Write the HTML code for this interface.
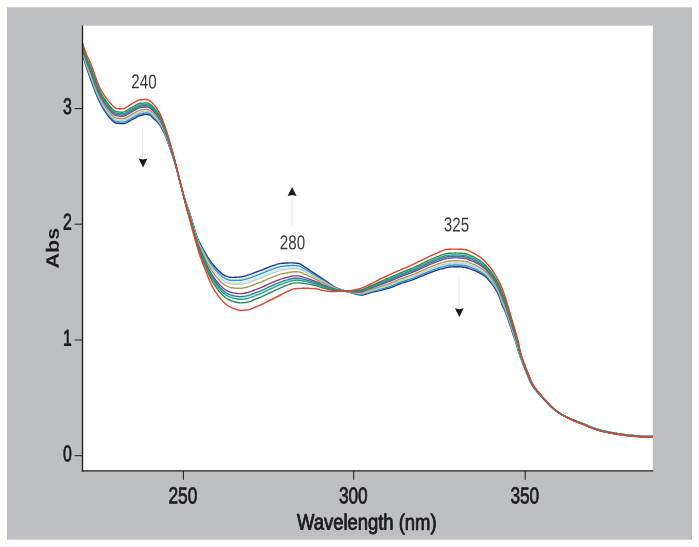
<!DOCTYPE html>
<html><head><meta charset="utf-8"><title>UV-Vis absorption spectra</title>
<style>
html,body{margin:0;padding:0;background:#fff;}
body{width:699px;height:547px;overflow:hidden;position:relative;font-family:"Liberation Sans",sans-serif;}
svg{position:absolute;left:0;top:0;display:block;}
</style></head><body>
<svg width="699" height="547" viewBox="0 0 699 547">
<defs><clipPath id="c"><rect x="82" y="25" width="570.8" height="446"/></clipPath></defs>
<rect x="7" y="7.3" width="685" height="532.4" fill="#bebfc3"/>
<rect x="82" y="25.7" width="570.8" height="445.3" fill="#fff"/>
<g fill="none" stroke-width="1.4" stroke-linejoin="round" clip-path="url(#c)">
<path d="M82.5 53.8 L83.5 57.1 L84.5 60.3 L85.5 63.4 L86.5 66.5 L87.5 69.5 L88.5 72.4 L89.5 75.2 L90.5 77.9 L91.5 80.7 L92.5 83.5 L93.5 86.2 L94.5 88.9 L95.5 91.5 L96.5 94.0 L97.5 96.4 L98.5 98.6 L99.5 100.8 L100.5 102.7 L101.5 104.5 L102.5 106.3 L103.5 108.1 L104.5 109.7 L105.5 111.3 L106.5 112.8 L107.5 114.2 L108.5 115.4 L109.5 116.6 L110.5 117.7 L111.5 118.8 L112.5 119.8 L113.5 120.8 L114.5 121.6 L115.5 122.1 L116.5 122.3 L117.5 122.4 L118.5 122.5 L119.5 122.6 L120.5 122.7 L121.5 122.7 L122.5 122.7 L123.5 122.7 L124.5 122.6 L125.5 122.3 L126.5 121.8 L127.5 121.3 L128.5 120.7 L129.5 120.1 L130.5 119.5 L131.5 119.0 L132.5 118.5 L133.5 117.9 L134.5 117.4 L135.5 116.8 L136.5 116.2 L137.5 115.7 L138.5 115.2 L139.5 114.8 L140.5 114.5 L141.5 114.3 L142.5 114.0 L143.5 113.8 L144.5 113.7 L145.5 113.5 L146.5 113.5 L147.5 113.6 L148.5 113.8 L149.5 114.1 L150.5 114.5 L151.5 115.4 L152.5 116.6 L153.5 117.6 L154.5 118.5 L155.5 119.4 L156.5 120.3 L157.5 121.4 L158.5 122.6 L159.5 123.9 L160.5 125.5 L161.5 127.2 L162.5 129.1 L163.5 131.0 L164.5 133.1 L165.5 135.5 L166.5 138.1 L167.5 140.9 L168.5 143.7 L169.5 146.6 L170.5 149.5 L171.5 152.4 L172.5 155.3 L173.5 158.4 L174.5 161.5 L175.5 164.8 L176.5 168.2 L177.5 172.0 L178.5 176.1 L179.5 180.1 L180.5 183.9 L181.5 187.6 L182.5 191.2 L183.5 194.7 L184.5 198.1 L185.5 201.3 L186.5 204.3 L187.5 207.3 L188.5 210.2 L189.5 213.2 L190.5 216.2 L191.5 219.3 L192.5 222.6 L193.5 226.0 L194.5 229.5 L195.5 232.8 L196.5 235.9 L197.5 238.6 L198.5 241.0 L199.5 243.1 L200.5 245.1 L201.5 247.1 L202.5 248.9 L203.5 250.8 L204.5 252.6 L205.5 254.4 L206.5 256.2 L207.5 257.9 L208.5 259.6 L209.5 261.2 L210.5 262.6 L211.5 264.0 L212.5 265.3 L213.5 266.6 L214.5 267.8 L215.5 268.9 L216.5 270.0 L217.5 271.0 L218.5 272.0 L219.5 273.1 L220.5 274.1 L221.5 275.0 L222.5 275.8 L223.5 276.6 L224.5 277.1 L225.5 277.5 L226.5 278.0 L227.5 278.3 L228.5 278.7 L229.5 278.9 L230.5 279.1 L231.5 279.2 L232.5 279.2 L233.5 279.2 L234.5 279.2 L235.5 279.2 L236.5 279.2 L237.5 279.1 L238.5 279.0 L239.5 279.0 L240.5 278.9 L241.5 278.8 L242.5 278.6 L243.5 278.4 L244.5 278.2 L245.5 277.9 L246.5 277.6 L247.5 277.3 L248.5 277.0 L249.5 276.7 L250.5 276.3 L251.5 276.0 L252.5 275.6 L253.5 275.2 L254.5 274.8 L255.5 274.4 L256.5 274.1 L257.5 273.7 L258.5 273.3 L259.5 273.0 L260.5 272.6 L261.5 272.3 L262.5 271.9 L263.5 271.4 L264.5 271.0 L265.5 270.6 L266.5 270.1 L267.5 269.7 L268.5 269.3 L269.5 268.9 L270.5 268.5 L271.5 268.2 L272.5 267.8 L273.5 267.5 L274.5 267.1 L275.5 266.7 L276.5 266.4 L277.5 266.1 L278.5 265.8 L279.5 265.6 L280.5 265.4 L281.5 265.2 L282.5 265.1 L283.5 265.0 L284.5 264.9 L285.5 264.8 L286.5 264.8 L287.5 264.7 L288.5 264.6 L289.5 264.6 L290.5 264.5 L291.5 264.5 L292.5 264.5 L293.5 264.5 L294.5 264.6 L295.5 264.6 L296.5 264.7 L297.5 264.8 L298.5 264.9 L299.5 265.2 L300.5 265.6 L301.5 266.1 L302.5 266.7 L303.5 267.4 L304.5 268.0 L305.5 268.6 L306.5 269.2 L307.5 269.8 L308.5 270.5 L309.5 271.1 L310.5 271.7 L311.5 272.4 L312.5 273.0 L313.5 273.7 L314.5 274.3 L315.5 275.0 L316.5 275.6 L317.5 276.2 L318.5 276.9 L319.5 277.5 L320.5 278.2 L321.5 278.8 L322.5 279.4 L323.5 280.0 L324.5 280.7 L325.5 281.3 L326.5 282.0 L327.5 282.6 L328.5 283.3 L329.5 284.0 L330.5 284.6 L331.5 285.3 L332.5 286.0 L333.5 286.6 L334.5 287.2 L335.5 287.7 L336.5 288.1 L337.5 288.5 L338.5 288.9 L339.5 289.2 L340.5 289.6 L341.5 289.9 L342.5 290.2 L343.5 290.5 L344.5 290.9 L345.5 291.2 L346.5 291.5 L347.5 291.7 L348.5 291.9 L349.5 292.1 L350.5 292.4 L351.5 292.7 L352.5 293.0 L353.5 293.2 L354.5 293.5 L355.5 293.8 L356.5 294.0 L357.5 294.2 L358.5 294.4 L359.5 294.6 L360.5 294.7 L361.5 294.6 L362.5 294.5 L363.5 294.3 L364.5 294.1 L365.5 293.8 L366.5 293.5 L367.5 293.2 L368.5 292.8 L369.5 292.5 L370.5 292.2 L371.5 291.9 L372.5 291.6 L373.5 291.3 L374.5 291.1 L375.5 290.9 L376.5 290.7 L377.5 290.4 L378.5 290.2 L379.5 290.0 L380.5 289.7 L381.5 289.4 L382.5 289.2 L383.5 288.9 L384.5 288.6 L385.5 288.3 L386.5 288.1 L387.5 287.8 L388.5 287.5 L389.5 287.2 L390.5 286.9 L391.5 286.5 L392.5 286.1 L393.5 285.7 L394.5 285.3 L395.5 284.9 L396.5 284.4 L397.5 284.0 L398.5 283.6 L399.5 283.1 L400.5 282.7 L401.5 282.4 L402.5 282.0 L403.5 281.7 L404.5 281.4 L405.5 281.1 L406.5 280.8 L407.5 280.5 L408.5 280.3 L409.5 280.0 L410.5 279.7 L411.5 279.3 L412.5 279.0 L413.5 278.6 L414.5 278.2 L415.5 277.8 L416.5 277.4 L417.5 276.9 L418.5 276.5 L419.5 276.1 L420.5 275.6 L421.5 275.2 L422.5 274.8 L423.5 274.4 L424.5 274.0 L425.5 273.6 L426.5 273.1 L427.5 272.7 L428.5 272.3 L429.5 271.9 L430.5 271.5 L431.5 271.1 L432.5 270.8 L433.5 270.4 L434.5 270.1 L435.5 269.7 L436.5 269.4 L437.5 269.0 L438.5 268.7 L439.5 268.4 L440.5 268.1 L441.5 267.9 L442.5 267.6 L443.5 267.4 L444.5 267.1 L445.5 266.8 L446.5 266.6 L447.5 266.3 L448.5 266.2 L449.5 266.0 L450.5 266.0 L451.5 265.9 L452.5 265.8 L453.5 265.7 L454.5 265.7 L455.5 265.6 L456.5 265.6 L457.5 265.7 L458.5 265.7 L459.5 265.8 L460.5 265.9 L461.5 266.0 L462.5 266.1 L463.5 266.1 L464.5 266.2 L465.5 266.4 L466.5 266.7 L467.5 267.0 L468.5 267.3 L469.5 267.7 L470.5 268.0 L471.5 268.4 L472.5 268.8 L473.5 269.1 L474.5 269.4 L475.5 269.9 L476.5 270.4 L477.5 270.9 L478.5 271.4 L479.5 271.9 L480.5 272.5 L481.5 273.1 L482.5 273.6 L483.5 274.3 L484.5 275.0 L485.5 275.7 L486.5 276.6 L487.5 277.7 L488.5 278.8 L489.5 280.0 L490.5 281.3 L491.5 282.6 L492.5 283.9 L493.5 285.3 L494.5 286.8 L495.5 288.4 L496.5 290.1 L497.5 292.0 L498.5 294.0 L499.5 296.4 L500.5 299.4 L501.5 302.4 L502.5 304.9 L503.5 307.0 L504.5 309.0 L505.5 311.4 L506.5 314.0 L507.5 316.9 L508.5 319.8 L509.5 322.7 L510.5 325.8 L511.5 328.9 L512.5 332.1 L513.5 335.1 L514.5 337.9 L515.5 340.7 L516.5 344.0 L517.5 347.4 L518.5 350.8 L519.5 354.0 L520.5 356.9 L521.5 359.7 L522.5 362.4 L523.5 365.0 L524.5 367.6 L525.5 370.2 L526.5 372.7 L527.5 375.1 L528.5 377.6 L529.5 380.0 L530.5 382.3 L531.5 384.2 L532.5 385.8 L533.5 387.2 L534.5 388.6 L535.5 389.8 L536.5 391.0 L537.5 392.3 L538.5 393.4 L539.5 394.6 L540.5 395.6 L541.5 396.7 L542.5 397.8 L543.5 398.8 L544.5 399.9 L545.5 401.0 L546.5 402.1 L547.5 403.2 L548.5 404.2 L549.5 405.3 L550.5 406.2 L551.5 407.2 L552.5 408.0 L553.5 408.8 L554.5 409.6 L555.5 410.4 L556.5 411.1 L557.5 411.9 L558.5 412.5 L559.5 413.2 L560.5 413.8 L561.5 414.4 L562.5 415.0 L563.5 415.6 L564.5 416.1 L565.5 416.6 L566.5 417.1 L567.5 417.5 L568.5 418.0 L569.5 418.4 L570.5 418.9 L571.5 419.3 L572.5 419.7 L573.5 420.1 L574.5 420.5 L575.5 420.9 L576.5 421.2 L577.5 421.6 L578.5 422.0 L579.5 422.3 L580.5 422.7 L581.5 423.0 L582.5 423.4 L583.5 423.8 L584.5 424.2 L585.5 424.6 L586.5 425.1 L587.5 425.5 L588.5 426.0 L589.5 426.4 L590.5 426.7 L591.5 427.1 L592.5 427.5 L593.5 427.8 L594.5 428.2 L595.5 428.5 L596.5 428.9 L597.5 429.2 L598.5 429.5 L599.5 429.8 L600.5 430.1 L601.5 430.3 L602.5 430.6 L603.5 430.9 L604.5 431.1 L605.5 431.3 L606.5 431.5 L607.5 431.8 L608.5 432.0 L609.5 432.2 L610.5 432.4 L611.5 432.5 L612.5 432.7 L613.5 432.9 L614.5 433.1 L615.5 433.2 L616.5 433.4 L617.5 433.6 L618.5 433.7 L619.5 433.9 L620.5 434.0 L621.5 434.1 L622.5 434.3 L623.5 434.4 L624.5 434.5 L625.5 434.7 L626.5 434.8 L627.5 434.9 L628.5 435.0 L629.5 435.1 L630.5 435.2 L631.5 435.3 L632.5 435.4 L633.5 435.5 L634.5 435.6 L635.5 435.7 L636.5 435.8 L637.5 435.8 L638.5 435.9 L639.5 436.0 L640.5 436.1 L641.5 436.1 L642.5 436.2 L643.5 436.2 L644.5 436.3 L645.5 436.3 L646.5 436.3 L647.5 436.3 L648.5 436.4 L649.5 436.4 L650.5 436.4 L651.5 436.4 L652.5 436.4 L653.5 436.4" stroke="#c4ecee" stroke-opacity="0.8"/>
<path d="M82.5 52.5 L83.5 55.8 L84.5 59.0 L85.5 62.1 L86.5 65.1 L87.5 68.0 L88.5 70.8 L89.5 73.5 L90.5 76.2 L91.5 78.9 L92.5 81.7 L93.5 84.4 L94.5 87.1 L95.5 89.8 L96.5 92.3 L97.5 94.7 L98.5 97.0 L99.5 99.2 L100.5 101.1 L101.5 102.9 L102.5 104.7 L103.5 106.4 L104.5 108.1 L105.5 109.6 L106.5 111.1 L107.5 112.5 L108.5 113.8 L109.5 114.9 L110.5 116.0 L111.5 117.1 L112.5 118.2 L113.5 119.2 L114.5 120.0 L115.5 120.5 L116.5 120.7 L117.5 120.8 L118.5 120.9 L119.5 121.0 L120.5 121.0 L121.5 121.1 L122.5 121.1 L123.5 121.1 L124.5 120.9 L125.5 120.6 L126.5 120.1 L127.5 119.6 L128.5 119.0 L129.5 118.4 L130.5 117.8 L131.5 117.2 L132.5 116.7 L133.5 116.2 L134.5 115.6 L135.5 115.0 L136.5 114.5 L137.5 113.9 L138.5 113.5 L139.5 113.1 L140.5 112.8 L141.5 112.6 L142.5 112.4 L143.5 112.2 L144.5 112.0 L145.5 111.9 L146.5 111.9 L147.5 112.0 L148.5 112.2 L149.5 112.5 L150.5 113.0 L151.5 113.9 L152.5 115.0 L153.5 116.1 L154.5 117.0 L155.5 117.9 L156.5 118.9 L157.5 120.0 L158.5 121.2 L159.5 122.7 L160.5 124.3 L161.5 126.0 L162.5 128.0 L163.5 130.0 L164.5 132.2 L165.5 134.6 L166.5 137.3 L167.5 140.1 L168.5 143.0 L169.5 145.9 L170.5 148.9 L171.5 151.9 L172.5 154.9 L173.5 158.0 L174.5 161.2 L175.5 164.6 L176.5 168.1 L177.5 172.0 L178.5 176.0 L179.5 180.0 L180.5 183.9 L181.5 187.6 L182.5 191.3 L183.5 194.9 L184.5 198.3 L185.5 201.6 L186.5 204.8 L187.5 207.8 L188.5 210.9 L189.5 213.9 L190.5 217.0 L191.5 220.1 L192.5 223.5 L193.5 226.9 L194.5 230.4 L195.5 233.7 L196.5 236.9 L197.5 239.7 L198.5 242.2 L199.5 244.4 L200.5 246.6 L201.5 248.6 L202.5 250.5 L203.5 252.4 L204.5 254.4 L205.5 256.3 L206.5 258.2 L207.5 260.0 L208.5 261.7 L209.5 263.4 L210.5 265.0 L211.5 266.5 L212.5 267.9 L213.5 269.2 L214.5 270.4 L215.5 271.6 L216.5 272.7 L217.5 273.8 L218.5 274.9 L219.5 275.9 L220.5 276.9 L221.5 277.9 L222.5 278.8 L223.5 279.5 L224.5 280.1 L225.5 280.6 L226.5 281.1 L227.5 281.5 L228.5 281.9 L229.5 282.2 L230.5 282.4 L231.5 282.5 L232.5 282.6 L233.5 282.7 L234.5 282.7 L235.5 282.7 L236.5 282.7 L237.5 282.7 L238.5 282.7 L239.5 282.6 L240.5 282.6 L241.5 282.5 L242.5 282.4 L243.5 282.2 L244.5 282.0 L245.5 281.7 L246.5 281.4 L247.5 281.1 L248.5 280.8 L249.5 280.5 L250.5 280.2 L251.5 279.8 L252.5 279.4 L253.5 279.0 L254.5 278.6 L255.5 278.2 L256.5 277.9 L257.5 277.5 L258.5 277.1 L259.5 276.8 L260.5 276.4 L261.5 276.0 L262.5 275.6 L263.5 275.2 L264.5 274.7 L265.5 274.3 L266.5 273.9 L267.5 273.4 L268.5 273.0 L269.5 272.6 L270.5 272.2 L271.5 271.9 L272.5 271.5 L273.5 271.1 L274.5 270.7 L275.5 270.3 L276.5 270.0 L277.5 269.6 L278.5 269.3 L279.5 269.1 L280.5 268.8 L281.5 268.7 L282.5 268.5 L283.5 268.4 L284.5 268.2 L285.5 268.1 L286.5 267.9 L287.5 267.8 L288.5 267.7 L289.5 267.6 L290.5 267.5 L291.5 267.4 L292.5 267.4 L293.5 267.4 L294.5 267.4 L295.5 267.4 L296.5 267.5 L297.5 267.6 L298.5 267.7 L299.5 267.9 L300.5 268.2 L301.5 268.7 L302.5 269.3 L303.5 269.8 L304.5 270.4 L305.5 270.9 L306.5 271.5 L307.5 272.0 L308.5 272.6 L309.5 273.1 L310.5 273.7 L311.5 274.3 L312.5 274.9 L313.5 275.4 L314.5 276.0 L315.5 276.6 L316.5 277.2 L317.5 277.7 L318.5 278.3 L319.5 278.9 L320.5 279.5 L321.5 280.1 L322.5 280.7 L323.5 281.3 L324.5 281.9 L325.5 282.4 L326.5 283.0 L327.5 283.6 L328.5 284.2 L329.5 284.8 L330.5 285.4 L331.5 286.0 L332.5 286.6 L333.5 287.2 L334.5 287.7 L335.5 288.1 L336.5 288.5 L337.5 288.9 L338.5 289.2 L339.5 289.5 L340.5 289.8 L341.5 290.0 L342.5 290.3 L343.5 290.6 L344.5 290.9 L345.5 291.2 L346.5 291.4 L347.5 291.6 L348.5 291.8 L349.5 292.0 L350.5 292.2 L351.5 292.4 L352.5 292.6 L353.5 292.9 L354.5 293.1 L355.5 293.3 L356.5 293.5 L357.5 293.7 L358.5 293.8 L359.5 293.9 L360.5 293.9 L361.5 293.9 L362.5 293.7 L363.5 293.5 L364.5 293.2 L365.5 292.9 L366.5 292.6 L367.5 292.3 L368.5 291.9 L369.5 291.6 L370.5 291.2 L371.5 290.9 L372.5 290.6 L373.5 290.3 L374.5 290.0 L375.5 289.8 L376.5 289.5 L377.5 289.3 L378.5 289.0 L379.5 288.8 L380.5 288.5 L381.5 288.2 L382.5 287.8 L383.5 287.5 L384.5 287.2 L385.5 286.9 L386.5 286.6 L387.5 286.4 L388.5 286.1 L389.5 285.8 L390.5 285.4 L391.5 285.0 L392.5 284.6 L393.5 284.2 L394.5 283.8 L395.5 283.4 L396.5 282.9 L397.5 282.5 L398.5 282.0 L399.5 281.6 L400.5 281.2 L401.5 280.9 L402.5 280.5 L403.5 280.2 L404.5 279.9 L405.5 279.5 L406.5 279.2 L407.5 278.9 L408.5 278.6 L409.5 278.3 L410.5 278.0 L411.5 277.7 L412.5 277.3 L413.5 276.9 L414.5 276.5 L415.5 276.1 L416.5 275.6 L417.5 275.2 L418.5 274.8 L419.5 274.3 L420.5 273.9 L421.5 273.5 L422.5 273.0 L423.5 272.6 L424.5 272.2 L425.5 271.8 L426.5 271.3 L427.5 270.9 L428.5 270.5 L429.5 270.1 L430.5 269.7 L431.5 269.3 L432.5 268.9 L433.5 268.6 L434.5 268.2 L435.5 267.8 L436.5 267.5 L437.5 267.1 L438.5 266.8 L439.5 266.5 L440.5 266.2 L441.5 265.9 L442.5 265.6 L443.5 265.4 L444.5 265.1 L445.5 264.8 L446.5 264.6 L447.5 264.4 L448.5 264.2 L449.5 264.1 L450.5 264.0 L451.5 263.9 L452.5 263.8 L453.5 263.8 L454.5 263.7 L455.5 263.7 L456.5 263.7 L457.5 263.7 L458.5 263.8 L459.5 263.9 L460.5 263.9 L461.5 264.0 L462.5 264.1 L463.5 264.2 L464.5 264.3 L465.5 264.5 L466.5 264.7 L467.5 265.0 L468.5 265.4 L469.5 265.8 L470.5 266.1 L471.5 266.5 L472.5 266.9 L473.5 267.2 L474.5 267.6 L475.5 268.0 L476.5 268.5 L477.5 269.1 L478.5 269.6 L479.5 270.2 L480.5 270.8 L481.5 271.3 L482.5 271.9 L483.5 272.6 L484.5 273.3 L485.5 274.1 L486.5 275.0 L487.5 276.1 L488.5 277.2 L489.5 278.5 L490.5 279.7 L491.5 281.0 L492.5 282.3 L493.5 283.7 L494.5 285.2 L495.5 286.8 L496.5 288.6 L497.5 290.4 L498.5 292.5 L499.5 294.8 L500.5 297.7 L501.5 300.7 L502.5 303.1 L503.5 305.3 L504.5 307.4 L505.5 309.8 L506.5 312.5 L507.5 315.4 L508.5 318.4 L509.5 321.4 L510.5 324.5 L511.5 327.7 L512.5 330.8 L513.5 333.9 L514.5 336.7 L515.5 339.7 L516.5 342.9 L517.5 346.4 L518.5 349.8 L519.5 353.2 L520.5 356.4 L521.5 359.2 L522.5 361.9 L523.5 364.6 L524.5 367.2 L525.5 369.8 L526.5 372.3 L527.5 374.8 L528.5 377.2 L529.5 379.7 L530.5 381.9 L531.5 383.9 L532.5 385.5 L533.5 387.0 L534.5 388.4 L535.5 389.6 L536.5 390.9 L537.5 392.1 L538.5 393.3 L539.5 394.4 L540.5 395.5 L541.5 396.6 L542.5 397.7 L543.5 398.7 L544.5 399.8 L545.5 400.9 L546.5 402.0 L547.5 403.1 L548.5 404.2 L549.5 405.2 L550.5 406.2 L551.5 407.1 L552.5 408.0 L553.5 408.8 L554.5 409.6 L555.5 410.4 L556.5 411.1 L557.5 411.8 L558.5 412.5 L559.5 413.2 L560.5 413.8 L561.5 414.4 L562.5 415.0 L563.5 415.6 L564.5 416.1 L565.5 416.6 L566.5 417.1 L567.5 417.6 L568.5 418.0 L569.5 418.5 L570.5 418.9 L571.5 419.3 L572.5 419.7 L573.5 420.2 L574.5 420.6 L575.5 421.0 L576.5 421.3 L577.5 421.7 L578.5 422.1 L579.5 422.4 L580.5 422.8 L581.5 423.1 L582.5 423.5 L583.5 423.9 L584.5 424.3 L585.5 424.7 L586.5 425.2 L587.5 425.6 L588.5 426.1 L589.5 426.5 L590.5 426.8 L591.5 427.2 L592.5 427.6 L593.5 427.9 L594.5 428.3 L595.5 428.6 L596.5 429.0 L597.5 429.3 L598.5 429.6 L599.5 429.9 L600.5 430.2 L601.5 430.5 L602.5 430.7 L603.5 431.0 L604.5 431.2 L605.5 431.4 L606.5 431.6 L607.5 431.9 L608.5 432.1 L609.5 432.3 L610.5 432.5 L611.5 432.7 L612.5 432.8 L613.5 433.0 L614.5 433.2 L615.5 433.3 L616.5 433.5 L617.5 433.7 L618.5 433.8 L619.5 434.0 L620.5 434.1 L621.5 434.2 L622.5 434.4 L623.5 434.5 L624.5 434.6 L625.5 434.8 L626.5 434.9 L627.5 435.0 L628.5 435.1 L629.5 435.2 L630.5 435.3 L631.5 435.4 L632.5 435.5 L633.5 435.6 L634.5 435.7 L635.5 435.8 L636.5 435.9 L637.5 435.9 L638.5 436.0 L639.5 436.1 L640.5 436.2 L641.5 436.2 L642.5 436.3 L643.5 436.3 L644.5 436.4 L645.5 436.4 L646.5 436.4 L647.5 436.4 L648.5 436.5 L649.5 436.5 L650.5 436.5 L651.5 436.5 L652.5 436.5 L653.5 436.5" stroke="#c4ecee" stroke-opacity="0.8"/>
<path d="M82.5 47.3 L83.5 50.4 L84.5 53.5 L85.5 56.6 L86.5 59.3 L87.5 61.8 L88.5 64.2 L89.5 66.6 L90.5 68.9 L91.5 71.5 L92.5 74.3 L93.5 77.1 L94.5 79.9 L95.5 82.6 L96.5 85.2 L97.5 87.8 L98.5 90.2 L99.5 92.5 L100.5 94.5 L101.5 96.2 L102.5 98.0 L103.5 99.6 L104.5 101.2 L105.5 102.7 L106.5 104.1 L107.5 105.5 L108.5 106.7 L109.5 107.9 L110.5 109.0 L111.5 110.1 L112.5 111.2 L113.5 112.2 L114.5 113.0 L115.5 113.6 L116.5 113.9 L117.5 114.0 L118.5 114.1 L119.5 114.2 L120.5 114.3 L121.5 114.3 L122.5 114.3 L123.5 114.2 L124.5 114.0 L125.5 113.5 L126.5 113.0 L127.5 112.4 L128.5 111.7 L129.5 111.1 L130.5 110.5 L131.5 110.0 L132.5 109.4 L133.5 108.8 L134.5 108.2 L135.5 107.6 L136.5 107.1 L137.5 106.6 L138.5 106.1 L139.5 105.8 L140.5 105.6 L141.5 105.4 L142.5 105.3 L143.5 105.2 L144.5 105.1 L145.5 105.0 L146.5 105.0 L147.5 105.2 L148.5 105.6 L149.5 106.0 L150.5 106.5 L151.5 107.3 L152.5 108.4 L153.5 109.5 L154.5 110.6 L155.5 111.7 L156.5 112.9 L157.5 114.2 L158.5 115.6 L159.5 117.3 L160.5 119.1 L161.5 121.1 L162.5 123.4 L163.5 125.8 L164.5 128.3 L165.5 131.0 L166.5 133.8 L167.5 136.8 L168.5 139.9 L169.5 143.1 L170.5 146.3 L171.5 149.6 L172.5 153.0 L173.5 156.5 L174.5 160.2 L175.5 163.9 L176.5 167.8 L177.5 171.8 L178.5 175.8 L179.5 179.9 L180.5 183.8 L181.5 187.7 L182.5 191.6 L183.5 195.5 L184.5 199.3 L185.5 203.0 L186.5 206.6 L187.5 210.0 L188.5 213.4 L189.5 216.8 L190.5 220.2 L191.5 223.6 L192.5 227.2 L193.5 230.7 L194.5 234.2 L195.5 237.6 L196.5 241.0 L197.5 244.2 L198.5 247.2 L199.5 250.0 L200.5 252.5 L201.5 254.9 L202.5 257.3 L203.5 259.5 L204.5 261.8 L205.5 264.1 L206.5 266.3 L207.5 268.6 L208.5 270.7 L209.5 272.8 L210.5 274.8 L211.5 276.7 L212.5 278.4 L213.5 280.0 L214.5 281.4 L215.5 282.8 L216.5 284.2 L217.5 285.5 L218.5 286.7 L219.5 287.9 L220.5 289.0 L221.5 290.1 L222.5 291.1 L223.5 292.0 L224.5 292.8 L225.5 293.6 L226.5 294.2 L227.5 294.8 L228.5 295.3 L229.5 295.7 L230.5 296.1 L231.5 296.5 L232.5 296.7 L233.5 297.0 L234.5 297.2 L235.5 297.4 L236.5 297.6 L237.5 297.7 L238.5 297.8 L239.5 297.9 L240.5 298.0 L241.5 298.0 L242.5 297.9 L243.5 297.8 L244.5 297.6 L245.5 297.5 L246.5 297.3 L247.5 297.1 L248.5 296.8 L249.5 296.5 L250.5 296.2 L251.5 295.8 L252.5 295.4 L253.5 295.0 L254.5 294.6 L255.5 294.2 L256.5 293.8 L257.5 293.4 L258.5 293.0 L259.5 292.7 L260.5 292.3 L261.5 291.9 L262.5 291.4 L263.5 290.9 L264.5 290.4 L265.5 289.9 L266.5 289.5 L267.5 289.0 L268.5 288.5 L269.5 288.1 L270.5 287.6 L271.5 287.2 L272.5 286.7 L273.5 286.3 L274.5 285.9 L275.5 285.4 L276.5 285.0 L277.5 284.6 L278.5 284.1 L279.5 283.7 L280.5 283.3 L281.5 283.0 L282.5 282.6 L283.5 282.2 L284.5 281.9 L285.5 281.6 L286.5 281.2 L287.5 280.9 L288.5 280.6 L289.5 280.3 L290.5 280.0 L291.5 279.8 L292.5 279.5 L293.5 279.3 L294.5 279.2 L295.5 279.2 L296.5 279.2 L297.5 279.2 L298.5 279.2 L299.5 279.3 L300.5 279.4 L301.5 279.6 L302.5 279.8 L303.5 280.1 L304.5 280.3 L305.5 280.6 L306.5 280.8 L307.5 281.0 L308.5 281.3 L309.5 281.6 L310.5 281.9 L311.5 282.1 L312.5 282.4 L313.5 282.7 L314.5 283.0 L315.5 283.3 L316.5 283.6 L317.5 284.0 L318.5 284.4 L319.5 284.9 L320.5 285.3 L321.5 285.7 L322.5 286.1 L323.5 286.4 L324.5 286.8 L325.5 287.1 L326.5 287.5 L327.5 287.8 L328.5 288.2 L329.5 288.5 L330.5 288.8 L331.5 289.1 L332.5 289.4 L333.5 289.6 L334.5 289.9 L335.5 290.0 L336.5 290.2 L337.5 290.3 L338.5 290.4 L339.5 290.5 L340.5 290.6 L341.5 290.6 L342.5 290.7 L343.5 290.8 L344.5 290.9 L345.5 291.0 L346.5 291.1 L347.5 291.2 L348.5 291.2 L349.5 291.2 L350.5 291.3 L351.5 291.3 L352.5 291.3 L353.5 291.3 L354.5 291.3 L355.5 291.3 L356.5 291.3 L357.5 291.2 L358.5 291.1 L359.5 291.0 L360.5 290.9 L361.5 290.7 L362.5 290.4 L363.5 290.0 L364.5 289.7 L365.5 289.3 L366.5 288.9 L367.5 288.5 L368.5 288.1 L369.5 287.6 L370.5 287.2 L371.5 286.8 L372.5 286.4 L373.5 286.0 L374.5 285.6 L375.5 285.2 L376.5 284.8 L377.5 284.4 L378.5 284.0 L379.5 283.6 L380.5 283.2 L381.5 282.8 L382.5 282.4 L383.5 282.0 L384.5 281.6 L385.5 281.2 L386.5 280.8 L387.5 280.4 L388.5 280.0 L389.5 279.6 L390.5 279.2 L391.5 278.8 L392.5 278.4 L393.5 277.9 L394.5 277.5 L395.5 277.1 L396.5 276.6 L397.5 276.2 L398.5 275.8 L399.5 275.3 L400.5 274.9 L401.5 274.5 L402.5 274.1 L403.5 273.8 L404.5 273.4 L405.5 273.0 L406.5 272.7 L407.5 272.3 L408.5 271.9 L409.5 271.5 L410.5 271.1 L411.5 270.7 L412.5 270.3 L413.5 269.8 L414.5 269.4 L415.5 268.9 L416.5 268.5 L417.5 268.0 L418.5 267.6 L419.5 267.1 L420.5 266.6 L421.5 266.2 L422.5 265.7 L423.5 265.2 L424.5 264.8 L425.5 264.3 L426.5 263.8 L427.5 263.4 L428.5 262.9 L429.5 262.5 L430.5 262.1 L431.5 261.6 L432.5 261.2 L433.5 260.8 L434.5 260.4 L435.5 260.0 L436.5 259.6 L437.5 259.2 L438.5 258.8 L439.5 258.4 L440.5 258.1 L441.5 257.7 L442.5 257.3 L443.5 257.0 L444.5 256.7 L445.5 256.4 L446.5 256.2 L447.5 256.0 L448.5 255.9 L449.5 255.8 L450.5 255.8 L451.5 255.7 L452.5 255.7 L453.5 255.6 L454.5 255.6 L455.5 255.6 L456.5 255.6 L457.5 255.7 L458.5 255.7 L459.5 255.7 L460.5 255.8 L461.5 255.9 L462.5 256.0 L463.5 256.0 L464.5 256.1 L465.5 256.3 L466.5 256.6 L467.5 256.9 L468.5 257.3 L469.5 257.7 L470.5 258.1 L471.5 258.6 L472.5 259.0 L473.5 259.4 L474.5 259.9 L475.5 260.4 L476.5 260.9 L477.5 261.5 L478.5 262.1 L479.5 262.7 L480.5 263.4 L481.5 264.1 L482.5 264.8 L483.5 265.6 L484.5 266.4 L485.5 267.4 L486.5 268.4 L487.5 269.5 L488.5 270.6 L489.5 271.8 L490.5 273.0 L491.5 274.3 L492.5 275.8 L493.5 277.3 L494.5 278.8 L495.5 280.4 L496.5 282.2 L497.5 284.0 L498.5 286.0 L499.5 288.1 L500.5 290.5 L501.5 293.1 L502.5 295.6 L503.5 298.0 L504.5 300.5 L505.5 303.2 L506.5 306.2 L507.5 309.3 L508.5 312.5 L509.5 315.7 L510.5 319.0 L511.5 322.4 L512.5 325.7 L513.5 329.0 L514.5 332.1 L515.5 335.2 L516.5 338.5 L517.5 342.0 L518.5 345.7 L519.5 350.1 L520.5 354.0 L521.5 357.1 L522.5 360.0 L523.5 362.8 L524.5 365.5 L525.5 368.1 L526.5 370.7 L527.5 373.2 L528.5 375.6 L529.5 378.1 L530.5 380.4 L531.5 382.6 L532.5 384.5 L533.5 386.1 L534.5 387.5 L535.5 388.9 L536.5 390.2 L537.5 391.4 L538.5 392.6 L539.5 393.8 L540.5 395.0 L541.5 396.1 L542.5 397.2 L543.5 398.3 L544.5 399.4 L545.5 400.5 L546.5 401.6 L547.5 402.7 L548.5 403.8 L549.5 404.9 L550.5 405.9 L551.5 406.8 L552.5 407.7 L553.5 408.6 L554.5 409.4 L555.5 410.2 L556.5 410.9 L557.5 411.7 L558.5 412.4 L559.5 413.1 L560.5 413.7 L561.5 414.4 L562.5 415.0 L563.5 415.6 L564.5 416.2 L565.5 416.7 L566.5 417.2 L567.5 417.7 L568.5 418.2 L569.5 418.7 L570.5 419.1 L571.5 419.6 L572.5 420.0 L573.5 420.4 L574.5 420.9 L575.5 421.3 L576.5 421.7 L577.5 422.1 L578.5 422.5 L579.5 422.8 L580.5 423.2 L581.5 423.6 L582.5 424.0 L583.5 424.3 L584.5 424.7 L585.5 425.2 L586.5 425.6 L587.5 426.1 L588.5 426.5 L589.5 426.9 L590.5 427.3 L591.5 427.7 L592.5 428.0 L593.5 428.4 L594.5 428.7 L595.5 429.1 L596.5 429.4 L597.5 429.7 L598.5 430.0 L599.5 430.3 L600.5 430.6 L601.5 430.9 L602.5 431.1 L603.5 431.4 L604.5 431.6 L605.5 431.9 L606.5 432.1 L607.5 432.3 L608.5 432.5 L609.5 432.7 L610.5 432.9 L611.5 433.1 L612.5 433.3 L613.5 433.4 L614.5 433.6 L615.5 433.8 L616.5 433.9 L617.5 434.1 L618.5 434.2 L619.5 434.4 L620.5 434.5 L621.5 434.7 L622.5 434.8 L623.5 435.0 L624.5 435.1 L625.5 435.2 L626.5 435.3 L627.5 435.4 L628.5 435.6 L629.5 435.7 L630.5 435.8 L631.5 435.8 L632.5 435.9 L633.5 436.0 L634.5 436.1 L635.5 436.2 L636.5 436.3 L637.5 436.4 L638.5 436.5 L639.5 436.5 L640.5 436.6 L641.5 436.7 L642.5 436.7 L643.5 436.8 L644.5 436.8 L645.5 436.8 L646.5 436.9 L647.5 436.9 L648.5 436.9 L649.5 436.9 L650.5 436.9 L651.5 436.9 L652.5 436.9 L653.5 436.9" stroke="#c4ecee" stroke-opacity="0.8"/>
<path d="M82.5 54.5 L83.5 57.8 L84.5 61.0 L85.5 64.2 L86.5 67.3 L87.5 70.3 L88.5 73.2 L89.5 76.1 L90.5 78.9 L91.5 81.7 L92.5 84.4 L93.5 87.2 L94.5 89.8 L95.5 92.4 L96.5 94.9 L97.5 97.3 L98.5 99.5 L99.5 101.6 L100.5 103.5 L101.5 105.4 L102.5 107.2 L103.5 108.9 L104.5 110.6 L105.5 112.2 L106.5 113.7 L107.5 115.1 L108.5 116.4 L109.5 117.5 L110.5 118.6 L111.5 119.7 L112.5 120.8 L113.5 121.7 L114.5 122.5 L115.5 123.0 L116.5 123.2 L117.5 123.3 L118.5 123.4 L119.5 123.5 L120.5 123.5 L121.5 123.6 L122.5 123.6 L123.5 123.6 L124.5 123.5 L125.5 123.2 L126.5 122.8 L127.5 122.3 L128.5 121.7 L129.5 121.1 L130.5 120.5 L131.5 119.9 L132.5 119.4 L133.5 118.9 L134.5 118.3 L135.5 117.8 L136.5 117.2 L137.5 116.7 L138.5 116.2 L139.5 115.8 L140.5 115.5 L141.5 115.2 L142.5 115.0 L143.5 114.7 L144.5 114.6 L145.5 114.4 L146.5 114.4 L147.5 114.5 L148.5 114.7 L149.5 114.9 L150.5 115.4 L151.5 116.3 L152.5 117.5 L153.5 118.5 L154.5 119.4 L155.5 120.2 L156.5 121.1 L157.5 122.1 L158.5 123.3 L159.5 124.6 L160.5 126.2 L161.5 127.8 L162.5 129.7 L163.5 131.6 L164.5 133.6 L165.5 136.0 L166.5 138.5 L167.5 141.3 L168.5 144.1 L169.5 147.0 L170.5 149.8 L171.5 152.7 L172.5 155.6 L173.5 158.5 L174.5 161.6 L175.5 164.8 L176.5 168.3 L177.5 172.1 L178.5 176.1 L179.5 180.1 L180.5 183.9 L181.5 187.6 L182.5 191.2 L183.5 194.7 L184.5 198.0 L185.5 201.1 L186.5 204.1 L187.5 207.0 L188.5 209.9 L189.5 212.8 L190.5 215.8 L191.5 218.8 L192.5 222.1 L193.5 225.5 L194.5 229.0 L195.5 232.3 L196.5 235.4 L197.5 238.0 L198.5 240.3 L199.5 242.4 L200.5 244.4 L201.5 246.2 L202.5 248.0 L203.5 249.8 L204.5 251.6 L205.5 253.4 L206.5 255.1 L207.5 256.8 L208.5 258.4 L209.5 259.9 L210.5 261.3 L211.5 262.7 L212.5 263.9 L213.5 265.2 L214.5 266.3 L215.5 267.4 L216.5 268.5 L217.5 269.5 L218.5 270.5 L219.5 271.5 L220.5 272.5 L221.5 273.4 L222.5 274.2 L223.5 274.9 L224.5 275.5 L225.5 275.9 L226.5 276.2 L227.5 276.6 L228.5 276.9 L229.5 277.2 L230.5 277.3 L231.5 277.4 L232.5 277.4 L233.5 277.4 L234.5 277.3 L235.5 277.3 L236.5 277.2 L237.5 277.1 L238.5 277.1 L239.5 277.0 L240.5 276.9 L241.5 276.8 L242.5 276.6 L243.5 276.4 L244.5 276.2 L245.5 275.9 L246.5 275.6 L247.5 275.2 L248.5 274.9 L249.5 274.6 L250.5 274.2 L251.5 273.9 L252.5 273.5 L253.5 273.1 L254.5 272.7 L255.5 272.3 L256.5 272.0 L257.5 271.6 L258.5 271.2 L259.5 270.9 L260.5 270.5 L261.5 270.2 L262.5 269.8 L263.5 269.4 L264.5 268.9 L265.5 268.5 L266.5 268.1 L267.5 267.7 L268.5 267.3 L269.5 266.9 L270.5 266.5 L271.5 266.2 L272.5 265.8 L273.5 265.5 L274.5 265.1 L275.5 264.8 L276.5 264.4 L277.5 264.1 L278.5 263.9 L279.5 263.6 L280.5 263.5 L281.5 263.4 L282.5 263.3 L283.5 263.2 L284.5 263.2 L285.5 263.1 L286.5 263.0 L287.5 263.0 L288.5 263.0 L289.5 262.9 L290.5 262.9 L291.5 262.9 L292.5 262.9 L293.5 262.9 L294.5 263.0 L295.5 263.1 L296.5 263.2 L297.5 263.3 L298.5 263.4 L299.5 263.7 L300.5 264.1 L301.5 264.7 L302.5 265.4 L303.5 266.1 L304.5 266.8 L305.5 267.4 L306.5 268.0 L307.5 268.7 L308.5 269.3 L309.5 270.0 L310.5 270.7 L311.5 271.4 L312.5 272.1 L313.5 272.7 L314.5 273.4 L315.5 274.1 L316.5 274.8 L317.5 275.4 L318.5 276.1 L319.5 276.7 L320.5 277.4 L321.5 278.1 L322.5 278.7 L323.5 279.4 L324.5 280.0 L325.5 280.7 L326.5 281.4 L327.5 282.1 L328.5 282.8 L329.5 283.5 L330.5 284.2 L331.5 284.9 L332.5 285.6 L333.5 286.3 L334.5 286.9 L335.5 287.4 L336.5 287.9 L337.5 288.3 L338.5 288.7 L339.5 289.1 L340.5 289.5 L341.5 289.8 L342.5 290.1 L343.5 290.5 L344.5 290.9 L345.5 291.2 L346.5 291.5 L347.5 291.8 L348.5 292.0 L349.5 292.2 L350.5 292.5 L351.5 292.8 L352.5 293.1 L353.5 293.4 L354.5 293.8 L355.5 294.0 L356.5 294.3 L357.5 294.6 L358.5 294.8 L359.5 294.9 L360.5 295.1 L361.5 295.1 L362.5 295.0 L363.5 294.8 L364.5 294.6 L365.5 294.3 L366.5 294.0 L367.5 293.7 L368.5 293.3 L369.5 293.0 L370.5 292.7 L371.5 292.4 L372.5 292.1 L373.5 291.9 L374.5 291.7 L375.5 291.5 L376.5 291.3 L377.5 291.1 L378.5 290.9 L379.5 290.7 L380.5 290.4 L381.5 290.2 L382.5 289.9 L383.5 289.6 L384.5 289.3 L385.5 289.1 L386.5 288.8 L387.5 288.6 L388.5 288.3 L389.5 288.0 L390.5 287.7 L391.5 287.3 L392.5 286.9 L393.5 286.5 L394.5 286.1 L395.5 285.7 L396.5 285.2 L397.5 284.8 L398.5 284.4 L399.5 284.0 L400.5 283.6 L401.5 283.2 L402.5 282.9 L403.5 282.5 L404.5 282.2 L405.5 282.0 L406.5 281.7 L407.5 281.4 L408.5 281.1 L409.5 280.9 L410.5 280.6 L411.5 280.2 L412.5 279.9 L413.5 279.5 L414.5 279.1 L415.5 278.7 L416.5 278.3 L417.5 277.9 L418.5 277.4 L419.5 277.0 L420.5 276.6 L421.5 276.2 L422.5 275.8 L423.5 275.3 L424.5 274.9 L425.5 274.5 L426.5 274.1 L427.5 273.7 L428.5 273.3 L429.5 272.9 L430.5 272.5 L431.5 272.1 L432.5 271.8 L433.5 271.4 L434.5 271.1 L435.5 270.7 L436.5 270.4 L437.5 270.1 L438.5 269.7 L439.5 269.4 L440.5 269.1 L441.5 268.9 L442.5 268.7 L443.5 268.5 L444.5 268.2 L445.5 267.9 L446.5 267.7 L447.5 267.4 L448.5 267.2 L449.5 267.1 L450.5 267.0 L451.5 266.9 L452.5 266.9 L453.5 266.8 L454.5 266.7 L455.5 266.7 L456.5 266.7 L457.5 266.7 L458.5 266.8 L459.5 266.8 L460.5 266.9 L461.5 267.0 L462.5 267.1 L463.5 267.2 L464.5 267.3 L465.5 267.5 L466.5 267.7 L467.5 268.0 L468.5 268.4 L469.5 268.8 L470.5 269.1 L471.5 269.4 L472.5 269.8 L473.5 270.1 L474.5 270.5 L475.5 270.9 L476.5 271.4 L477.5 271.9 L478.5 272.4 L479.5 272.9 L480.5 273.5 L481.5 274.0 L482.5 274.6 L483.5 275.2 L484.5 275.8 L485.5 276.6 L486.5 277.5 L487.5 278.5 L488.5 279.7 L489.5 280.9 L490.5 282.2 L491.5 283.4 L492.5 284.7 L493.5 286.1 L494.5 287.6 L495.5 289.2 L496.5 290.9 L497.5 292.8 L498.5 294.9 L499.5 297.3 L500.5 300.3 L501.5 303.4 L502.5 305.9 L503.5 307.9 L504.5 309.9 L505.5 312.2 L506.5 314.8 L507.5 317.7 L508.5 320.5 L509.5 323.5 L510.5 326.5 L511.5 329.6 L512.5 332.7 L513.5 335.7 L514.5 338.5 L515.5 341.3 L516.5 344.6 L517.5 348.0 L518.5 351.3 L519.5 354.4 L520.5 357.2 L521.5 360.0 L522.5 362.6 L523.5 365.2 L524.5 367.8 L525.5 370.4 L526.5 372.9 L527.5 375.3 L528.5 377.8 L529.5 380.2 L530.5 382.5 L531.5 384.3 L532.5 385.9 L533.5 387.3 L534.5 388.7 L535.5 389.9 L536.5 391.1 L537.5 392.3 L538.5 393.5 L539.5 394.6 L540.5 395.7 L541.5 396.8 L542.5 397.8 L543.5 398.9 L544.5 400.0 L545.5 401.1 L546.5 402.1 L547.5 403.2 L548.5 404.3 L549.5 405.3 L550.5 406.3 L551.5 407.2 L552.5 408.0 L553.5 408.9 L554.5 409.7 L555.5 410.4 L556.5 411.2 L557.5 411.9 L558.5 412.6 L559.5 413.2 L560.5 413.9 L561.5 414.4 L562.5 415.0 L563.5 415.6 L564.5 416.1 L565.5 416.6 L566.5 417.1 L567.5 417.5 L568.5 418.0 L569.5 418.4 L570.5 418.8 L571.5 419.2 L572.5 419.6 L573.5 420.0 L574.5 420.4 L575.5 420.8 L576.5 421.2 L577.5 421.6 L578.5 421.9 L579.5 422.2 L580.5 422.6 L581.5 423.0 L582.5 423.4 L583.5 423.7 L584.5 424.1 L585.5 424.6 L586.5 425.0 L587.5 425.5 L588.5 425.9 L589.5 426.3 L590.5 426.7 L591.5 427.1 L592.5 427.4 L593.5 427.8 L594.5 428.1 L595.5 428.5 L596.5 428.8 L597.5 429.1 L598.5 429.4 L599.5 429.7 L600.5 430.0 L601.5 430.3 L602.5 430.6 L603.5 430.8 L604.5 431.0 L605.5 431.3 L606.5 431.5 L607.5 431.7 L608.5 431.9 L609.5 432.1 L610.5 432.3 L611.5 432.5 L612.5 432.7 L613.5 432.8 L614.5 433.0 L615.5 433.2 L616.5 433.3 L617.5 433.5 L618.5 433.6 L619.5 433.8 L620.5 433.9 L621.5 434.1 L622.5 434.2 L623.5 434.4 L624.5 434.5 L625.5 434.6 L626.5 434.7 L627.5 434.8 L628.5 435.0 L629.5 435.1 L630.5 435.2 L631.5 435.2 L632.5 435.3 L633.5 435.4 L634.5 435.5 L635.5 435.6 L636.5 435.7 L637.5 435.8 L638.5 435.9 L639.5 435.9 L640.5 436.0 L641.5 436.1 L642.5 436.1 L643.5 436.2 L644.5 436.2 L645.5 436.2 L646.5 436.3 L647.5 436.3 L648.5 436.3 L649.5 436.3 L650.5 436.3 L651.5 436.3 L652.5 436.3 L653.5 436.4" stroke="#27308f"/>
<path d="M82.5 53.4 L83.5 56.6 L84.5 59.8 L85.5 63.0 L86.5 66.0 L87.5 68.9 L88.5 71.8 L89.5 74.6 L90.5 77.3 L91.5 80.0 L92.5 82.8 L93.5 85.6 L94.5 88.2 L95.5 90.9 L96.5 93.4 L97.5 95.8 L98.5 98.1 L99.5 100.2 L100.5 102.1 L101.5 104.0 L102.5 105.7 L103.5 107.5 L104.5 109.1 L105.5 110.7 L106.5 112.2 L107.5 113.5 L108.5 114.8 L109.5 116.0 L110.5 117.1 L111.5 118.2 L112.5 119.2 L113.5 120.2 L114.5 121.0 L115.5 121.5 L116.5 121.7 L117.5 121.8 L118.5 121.9 L119.5 122.0 L120.5 122.1 L121.5 122.1 L122.5 122.1 L123.5 122.1 L124.5 122.0 L125.5 121.6 L126.5 121.2 L127.5 120.7 L128.5 120.1 L129.5 119.5 L130.5 118.9 L131.5 118.3 L132.5 117.8 L133.5 117.3 L134.5 116.7 L135.5 116.2 L136.5 115.6 L137.5 115.1 L138.5 114.6 L139.5 114.2 L140.5 113.9 L141.5 113.7 L142.5 113.4 L143.5 113.2 L144.5 113.1 L145.5 112.9 L146.5 112.9 L147.5 113.0 L148.5 113.2 L149.5 113.5 L150.5 114.0 L151.5 114.9 L152.5 116.0 L153.5 117.1 L154.5 118.0 L155.5 118.9 L156.5 119.8 L157.5 120.9 L158.5 122.1 L159.5 123.5 L160.5 125.0 L161.5 126.8 L162.5 128.7 L163.5 130.7 L164.5 132.8 L165.5 135.2 L166.5 137.8 L167.5 140.6 L168.5 143.5 L169.5 146.4 L170.5 149.3 L171.5 152.2 L172.5 155.2 L173.5 158.2 L174.5 161.4 L175.5 164.7 L176.5 168.2 L177.5 172.0 L178.5 176.0 L179.5 180.1 L180.5 183.9 L181.5 187.6 L182.5 191.3 L183.5 194.8 L184.5 198.2 L185.5 201.4 L186.5 204.5 L187.5 207.5 L188.5 210.5 L189.5 213.4 L190.5 216.5 L191.5 219.6 L192.5 222.9 L193.5 226.3 L194.5 229.8 L195.5 233.2 L196.5 236.3 L197.5 239.0 L198.5 241.4 L199.5 243.6 L200.5 245.7 L201.5 247.6 L202.5 249.5 L203.5 251.4 L204.5 253.2 L205.5 255.1 L206.5 256.9 L207.5 258.7 L208.5 260.4 L209.5 262.0 L210.5 263.5 L211.5 264.9 L212.5 266.2 L213.5 267.5 L214.5 268.7 L215.5 269.9 L216.5 271.0 L217.5 272.0 L218.5 273.1 L219.5 274.1 L220.5 275.1 L221.5 276.1 L222.5 276.9 L223.5 277.6 L224.5 278.2 L225.5 278.7 L226.5 279.1 L227.5 279.5 L228.5 279.8 L229.5 280.1 L230.5 280.3 L231.5 280.4 L232.5 280.5 L233.5 280.5 L234.5 280.5 L235.5 280.5 L236.5 280.4 L237.5 280.4 L238.5 280.4 L239.5 280.3 L240.5 280.2 L241.5 280.1 L242.5 280.0 L243.5 279.8 L244.5 279.6 L245.5 279.3 L246.5 279.0 L247.5 278.7 L248.5 278.4 L249.5 278.1 L250.5 277.7 L251.5 277.4 L252.5 277.0 L253.5 276.6 L254.5 276.2 L255.5 275.8 L256.5 275.4 L257.5 275.1 L258.5 274.7 L259.5 274.3 L260.5 274.0 L261.5 273.6 L262.5 273.2 L263.5 272.8 L264.5 272.4 L265.5 271.9 L266.5 271.5 L267.5 271.1 L268.5 270.7 L269.5 270.3 L270.5 269.9 L271.5 269.5 L272.5 269.2 L273.5 268.8 L274.5 268.4 L275.5 268.0 L276.5 267.7 L277.5 267.4 L278.5 267.1 L279.5 266.8 L280.5 266.6 L281.5 266.5 L282.5 266.4 L283.5 266.2 L284.5 266.1 L285.5 266.0 L286.5 265.9 L287.5 265.8 L288.5 265.8 L289.5 265.7 L290.5 265.6 L291.5 265.6 L292.5 265.5 L293.5 265.5 L294.5 265.6 L295.5 265.6 L296.5 265.7 L297.5 265.8 L298.5 265.9 L299.5 266.2 L300.5 266.5 L301.5 267.1 L302.5 267.7 L303.5 268.3 L304.5 268.9 L305.5 269.5 L306.5 270.0 L307.5 270.6 L308.5 271.2 L309.5 271.8 L310.5 272.5 L311.5 273.1 L312.5 273.7 L313.5 274.3 L314.5 274.9 L315.5 275.6 L316.5 276.2 L317.5 276.8 L318.5 277.4 L319.5 278.0 L320.5 278.7 L321.5 279.3 L322.5 279.9 L323.5 280.5 L324.5 281.1 L325.5 281.7 L326.5 282.3 L327.5 283.0 L328.5 283.6 L329.5 284.3 L330.5 284.9 L331.5 285.6 L332.5 286.2 L333.5 286.8 L334.5 287.4 L335.5 287.8 L336.5 288.3 L337.5 288.6 L338.5 289.0 L339.5 289.3 L340.5 289.7 L341.5 290.0 L342.5 290.2 L343.5 290.5 L344.5 290.9 L345.5 291.2 L346.5 291.4 L347.5 291.7 L348.5 291.9 L349.5 292.1 L350.5 292.3 L351.5 292.6 L352.5 292.8 L353.5 293.1 L354.5 293.4 L355.5 293.6 L356.5 293.8 L357.5 294.0 L358.5 294.2 L359.5 294.3 L360.5 294.4 L361.5 294.4 L362.5 294.2 L363.5 294.0 L364.5 293.8 L365.5 293.5 L366.5 293.2 L367.5 292.8 L368.5 292.5 L369.5 292.2 L370.5 291.8 L371.5 291.5 L372.5 291.2 L373.5 290.9 L374.5 290.7 L375.5 290.5 L376.5 290.3 L377.5 290.0 L378.5 289.8 L379.5 289.6 L380.5 289.3 L381.5 289.0 L382.5 288.7 L383.5 288.4 L384.5 288.1 L385.5 287.8 L386.5 287.5 L387.5 287.3 L388.5 287.0 L389.5 286.7 L390.5 286.4 L391.5 286.0 L392.5 285.6 L393.5 285.2 L394.5 284.7 L395.5 284.3 L396.5 283.9 L397.5 283.4 L398.5 283.0 L399.5 282.6 L400.5 282.2 L401.5 281.8 L402.5 281.5 L403.5 281.1 L404.5 280.8 L405.5 280.5 L406.5 280.3 L407.5 280.0 L408.5 279.7 L409.5 279.4 L410.5 279.1 L411.5 278.7 L412.5 278.4 L413.5 278.0 L414.5 277.6 L415.5 277.2 L416.5 276.7 L417.5 276.3 L418.5 275.9 L419.5 275.4 L420.5 275.0 L421.5 274.6 L422.5 274.2 L423.5 273.7 L424.5 273.3 L425.5 272.9 L426.5 272.5 L427.5 272.1 L428.5 271.7 L429.5 271.3 L430.5 270.9 L431.5 270.5 L432.5 270.1 L433.5 269.7 L434.5 269.4 L435.5 269.0 L436.5 268.7 L437.5 268.3 L438.5 268.0 L439.5 267.7 L440.5 267.4 L441.5 267.1 L442.5 266.9 L443.5 266.6 L444.5 266.4 L445.5 266.1 L446.5 265.8 L447.5 265.6 L448.5 265.4 L449.5 265.3 L450.5 265.3 L451.5 265.2 L452.5 265.1 L453.5 265.0 L454.5 265.0 L455.5 264.9 L456.5 264.9 L457.5 265.0 L458.5 265.0 L459.5 265.1 L460.5 265.2 L461.5 265.3 L462.5 265.3 L463.5 265.4 L464.5 265.5 L465.5 265.7 L466.5 266.0 L467.5 266.3 L468.5 266.6 L469.5 267.0 L470.5 267.4 L471.5 267.7 L472.5 268.1 L473.5 268.4 L474.5 268.8 L475.5 269.2 L476.5 269.7 L477.5 270.2 L478.5 270.8 L479.5 271.3 L480.5 271.9 L481.5 272.4 L482.5 273.0 L483.5 273.7 L484.5 274.4 L485.5 275.1 L486.5 276.0 L487.5 277.1 L488.5 278.2 L489.5 279.5 L490.5 280.7 L491.5 282.0 L492.5 283.3 L493.5 284.7 L494.5 286.2 L495.5 287.8 L496.5 289.5 L497.5 291.4 L498.5 293.5 L499.5 295.8 L500.5 298.8 L501.5 301.8 L502.5 304.3 L503.5 306.4 L504.5 308.4 L505.5 310.8 L506.5 313.5 L507.5 316.3 L508.5 319.3 L509.5 322.2 L510.5 325.3 L511.5 328.5 L512.5 331.6 L513.5 334.6 L514.5 337.5 L515.5 340.3 L516.5 343.6 L517.5 347.1 L518.5 350.4 L519.5 353.7 L520.5 356.7 L521.5 359.5 L522.5 362.2 L523.5 364.8 L524.5 367.4 L525.5 370.0 L526.5 372.5 L527.5 375.0 L528.5 377.5 L529.5 379.9 L530.5 382.1 L531.5 384.0 L532.5 385.7 L533.5 387.1 L534.5 388.5 L535.5 389.7 L536.5 391.0 L537.5 392.2 L538.5 393.4 L539.5 394.5 L540.5 395.6 L541.5 396.7 L542.5 397.7 L543.5 398.8 L544.5 399.9 L545.5 401.0 L546.5 402.1 L547.5 403.1 L548.5 404.2 L549.5 405.2 L550.5 406.2 L551.5 407.1 L552.5 408.0 L553.5 408.8 L554.5 409.6 L555.5 410.4 L556.5 411.1 L557.5 411.8 L558.5 412.5 L559.5 413.2 L560.5 413.8 L561.5 414.4 L562.5 415.0 L563.5 415.6 L564.5 416.1 L565.5 416.6 L566.5 417.1 L567.5 417.6 L568.5 418.0 L569.5 418.4 L570.5 418.9 L571.5 419.3 L572.5 419.7 L573.5 420.1 L574.5 420.5 L575.5 420.9 L576.5 421.3 L577.5 421.6 L578.5 422.0 L579.5 422.3 L580.5 422.7 L581.5 423.1 L582.5 423.4 L583.5 423.8 L584.5 424.2 L585.5 424.7 L586.5 425.1 L587.5 425.6 L588.5 426.0 L589.5 426.4 L590.5 426.8 L591.5 427.1 L592.5 427.5 L593.5 427.9 L594.5 428.2 L595.5 428.6 L596.5 428.9 L597.5 429.2 L598.5 429.5 L599.5 429.8 L600.5 430.1 L601.5 430.4 L602.5 430.6 L603.5 430.9 L604.5 431.1 L605.5 431.4 L606.5 431.6 L607.5 431.8 L608.5 432.0 L609.5 432.2 L610.5 432.4 L611.5 432.6 L612.5 432.8 L613.5 432.9 L614.5 433.1 L615.5 433.3 L616.5 433.4 L617.5 433.6 L618.5 433.7 L619.5 433.9 L620.5 434.0 L621.5 434.2 L622.5 434.3 L623.5 434.4 L624.5 434.6 L625.5 434.7 L626.5 434.8 L627.5 434.9 L628.5 435.0 L629.5 435.2 L630.5 435.3 L631.5 435.3 L632.5 435.4 L633.5 435.5 L634.5 435.6 L635.5 435.7 L636.5 435.8 L637.5 435.9 L638.5 436.0 L639.5 436.0 L640.5 436.1 L641.5 436.2 L642.5 436.2 L643.5 436.3 L644.5 436.3 L645.5 436.3 L646.5 436.4 L647.5 436.4 L648.5 436.4 L649.5 436.4 L650.5 436.4 L651.5 436.4 L652.5 436.4 L653.5 436.4" stroke="#2d9cbc"/>
<path d="M82.5 52.0 L83.5 55.2 L84.5 58.4 L85.5 61.5 L86.5 64.5 L87.5 67.3 L88.5 70.1 L89.5 72.8 L90.5 75.4 L91.5 78.1 L92.5 80.9 L93.5 83.6 L94.5 86.3 L95.5 89.0 L96.5 91.5 L97.5 94.0 L98.5 96.3 L99.5 98.4 L100.5 100.4 L101.5 102.2 L102.5 104.0 L103.5 105.7 L104.5 107.3 L105.5 108.9 L106.5 110.3 L107.5 111.7 L108.5 113.0 L109.5 114.2 L110.5 115.3 L111.5 116.3 L112.5 117.4 L113.5 118.4 L114.5 119.2 L115.5 119.7 L116.5 120.0 L117.5 120.1 L118.5 120.2 L119.5 120.2 L120.5 120.3 L121.5 120.3 L122.5 120.4 L123.5 120.3 L124.5 120.1 L125.5 119.8 L126.5 119.3 L127.5 118.8 L128.5 118.2 L129.5 117.6 L130.5 117.0 L131.5 116.4 L132.5 115.9 L133.5 115.4 L134.5 114.8 L135.5 114.2 L136.5 113.7 L137.5 113.1 L138.5 112.7 L139.5 112.3 L140.5 112.0 L141.5 111.8 L142.5 111.6 L143.5 111.4 L144.5 111.2 L145.5 111.2 L146.5 111.1 L147.5 111.2 L148.5 111.5 L149.5 111.8 L150.5 112.3 L151.5 113.2 L152.5 114.3 L153.5 115.3 L154.5 116.3 L155.5 117.2 L156.5 118.2 L157.5 119.3 L158.5 120.6 L159.5 122.1 L160.5 123.7 L161.5 125.5 L162.5 127.5 L163.5 129.6 L164.5 131.8 L165.5 134.2 L166.5 136.9 L167.5 139.7 L168.5 142.6 L169.5 145.6 L170.5 148.6 L171.5 151.6 L172.5 154.7 L173.5 157.8 L174.5 161.1 L175.5 164.5 L176.5 168.1 L177.5 172.0 L178.5 176.0 L179.5 180.0 L180.5 183.9 L181.5 187.6 L182.5 191.3 L183.5 194.9 L184.5 198.4 L185.5 201.8 L186.5 205.0 L187.5 208.1 L188.5 211.1 L189.5 214.2 L190.5 217.3 L191.5 220.5 L192.5 223.9 L193.5 227.3 L194.5 230.8 L195.5 234.2 L196.5 237.3 L197.5 240.2 L198.5 242.7 L199.5 245.0 L200.5 247.2 L201.5 249.3 L202.5 251.3 L203.5 253.2 L204.5 255.2 L205.5 257.1 L206.5 259.1 L207.5 260.9 L208.5 262.7 L209.5 264.4 L210.5 266.0 L211.5 267.6 L212.5 269.0 L213.5 270.3 L214.5 271.6 L215.5 272.8 L216.5 274.0 L217.5 275.1 L218.5 276.2 L219.5 277.2 L220.5 278.3 L221.5 279.2 L222.5 280.1 L223.5 280.9 L224.5 281.5 L225.5 282.0 L226.5 282.5 L227.5 282.9 L228.5 283.3 L229.5 283.6 L230.5 283.9 L231.5 284.1 L232.5 284.2 L233.5 284.2 L234.5 284.3 L235.5 284.3 L236.5 284.3 L237.5 284.3 L238.5 284.3 L239.5 284.3 L240.5 284.2 L241.5 284.2 L242.5 284.0 L243.5 283.9 L244.5 283.7 L245.5 283.4 L246.5 283.2 L247.5 282.9 L248.5 282.6 L249.5 282.2 L250.5 281.9 L251.5 281.5 L252.5 281.1 L253.5 280.7 L254.5 280.3 L255.5 280.0 L256.5 279.6 L257.5 279.2 L258.5 278.9 L259.5 278.5 L260.5 278.1 L261.5 277.8 L262.5 277.3 L263.5 276.9 L264.5 276.4 L265.5 276.0 L266.5 275.6 L267.5 275.1 L268.5 274.7 L269.5 274.3 L270.5 273.9 L271.5 273.5 L272.5 273.1 L273.5 272.7 L274.5 272.4 L275.5 272.0 L276.5 271.6 L277.5 271.3 L278.5 270.9 L279.5 270.7 L280.5 270.4 L281.5 270.2 L282.5 270.0 L283.5 269.9 L284.5 269.7 L285.5 269.5 L286.5 269.4 L287.5 269.3 L288.5 269.1 L289.5 269.0 L290.5 268.9 L291.5 268.8 L292.5 268.7 L293.5 268.7 L294.5 268.7 L295.5 268.7 L296.5 268.8 L297.5 268.8 L298.5 268.9 L299.5 269.1 L300.5 269.5 L301.5 269.9 L302.5 270.4 L303.5 271.0 L304.5 271.5 L305.5 272.0 L306.5 272.5 L307.5 273.0 L308.5 273.5 L309.5 274.0 L310.5 274.6 L311.5 275.1 L312.5 275.7 L313.5 276.2 L314.5 276.8 L315.5 277.3 L316.5 277.9 L317.5 278.4 L318.5 279.0 L319.5 279.6 L320.5 280.2 L321.5 280.7 L322.5 281.3 L323.5 281.8 L324.5 282.4 L325.5 282.9 L326.5 283.5 L327.5 284.1 L328.5 284.7 L329.5 285.2 L330.5 285.8 L331.5 286.4 L332.5 286.9 L333.5 287.4 L334.5 287.9 L335.5 288.3 L336.5 288.7 L337.5 289.0 L338.5 289.3 L339.5 289.6 L340.5 289.9 L341.5 290.1 L342.5 290.3 L343.5 290.6 L344.5 290.9 L345.5 291.1 L346.5 291.4 L347.5 291.6 L348.5 291.7 L349.5 291.9 L350.5 292.1 L351.5 292.3 L352.5 292.5 L353.5 292.7 L354.5 292.9 L355.5 293.1 L356.5 293.2 L357.5 293.4 L358.5 293.5 L359.5 293.6 L360.5 293.6 L361.5 293.5 L362.5 293.4 L363.5 293.1 L364.5 292.9 L365.5 292.5 L366.5 292.2 L367.5 291.9 L368.5 291.5 L369.5 291.1 L370.5 290.8 L371.5 290.5 L372.5 290.1 L373.5 289.8 L374.5 289.6 L375.5 289.3 L376.5 289.0 L377.5 288.7 L378.5 288.5 L379.5 288.2 L380.5 287.9 L381.5 287.6 L382.5 287.3 L383.5 286.9 L384.5 286.6 L385.5 286.3 L386.5 286.0 L387.5 285.7 L388.5 285.4 L389.5 285.1 L390.5 284.7 L391.5 284.4 L392.5 283.9 L393.5 283.5 L394.5 283.1 L395.5 282.7 L396.5 282.2 L397.5 281.8 L398.5 281.4 L399.5 280.9 L400.5 280.5 L401.5 280.2 L402.5 279.8 L403.5 279.5 L404.5 279.2 L405.5 278.8 L406.5 278.5 L407.5 278.2 L408.5 277.9 L409.5 277.6 L410.5 277.3 L411.5 276.9 L412.5 276.5 L413.5 276.1 L414.5 275.7 L415.5 275.3 L416.5 274.9 L417.5 274.4 L418.5 274.0 L419.5 273.5 L420.5 273.1 L421.5 272.7 L422.5 272.2 L423.5 271.8 L424.5 271.4 L425.5 271.0 L426.5 270.5 L427.5 270.1 L428.5 269.7 L429.5 269.3 L430.5 268.9 L431.5 268.5 L432.5 268.1 L433.5 267.7 L434.5 267.3 L435.5 267.0 L436.5 266.6 L437.5 266.3 L438.5 265.9 L439.5 265.6 L440.5 265.3 L441.5 265.0 L442.5 264.7 L443.5 264.5 L444.5 264.2 L445.5 263.9 L446.5 263.7 L447.5 263.5 L448.5 263.3 L449.5 263.2 L450.5 263.1 L451.5 263.0 L452.5 262.9 L453.5 262.9 L454.5 262.8 L455.5 262.8 L456.5 262.8 L457.5 262.9 L458.5 262.9 L459.5 263.0 L460.5 263.0 L461.5 263.1 L462.5 263.2 L463.5 263.3 L464.5 263.4 L465.5 263.6 L466.5 263.8 L467.5 264.2 L468.5 264.5 L469.5 264.9 L470.5 265.3 L471.5 265.6 L472.5 266.0 L473.5 266.4 L474.5 266.8 L475.5 267.2 L476.5 267.7 L477.5 268.2 L478.5 268.8 L479.5 269.4 L480.5 270.0 L481.5 270.5 L482.5 271.2 L483.5 271.8 L484.5 272.6 L485.5 273.4 L486.5 274.3 L487.5 275.4 L488.5 276.5 L489.5 277.7 L490.5 279.0 L491.5 280.3 L492.5 281.6 L493.5 283.0 L494.5 284.5 L495.5 286.1 L496.5 287.9 L497.5 289.7 L498.5 291.8 L499.5 294.1 L500.5 296.9 L501.5 299.8 L502.5 302.3 L503.5 304.5 L504.5 306.6 L505.5 309.1 L506.5 311.8 L507.5 314.7 L508.5 317.7 L509.5 320.8 L510.5 323.9 L511.5 327.1 L512.5 330.3 L513.5 333.4 L514.5 336.2 L515.5 339.2 L516.5 342.5 L517.5 345.9 L518.5 349.3 L519.5 352.9 L520.5 356.1 L521.5 359.0 L522.5 361.7 L523.5 364.4 L524.5 367.0 L525.5 369.6 L526.5 372.1 L527.5 374.6 L528.5 377.1 L529.5 379.5 L530.5 381.8 L531.5 383.7 L532.5 385.4 L533.5 386.9 L534.5 388.3 L535.5 389.5 L536.5 390.8 L537.5 392.0 L538.5 393.2 L539.5 394.4 L540.5 395.5 L541.5 396.6 L542.5 397.6 L543.5 398.7 L544.5 399.8 L545.5 400.9 L546.5 402.0 L547.5 403.1 L548.5 404.1 L549.5 405.1 L550.5 406.1 L551.5 407.1 L552.5 407.9 L553.5 408.8 L554.5 409.6 L555.5 410.3 L556.5 411.1 L557.5 411.8 L558.5 412.5 L559.5 413.2 L560.5 413.8 L561.5 414.4 L562.5 415.0 L563.5 415.6 L564.5 416.1 L565.5 416.6 L566.5 417.1 L567.5 417.6 L568.5 418.0 L569.5 418.5 L570.5 418.9 L571.5 419.4 L572.5 419.8 L573.5 420.2 L574.5 420.6 L575.5 421.0 L576.5 421.4 L577.5 421.7 L578.5 422.1 L579.5 422.5 L580.5 422.8 L581.5 423.2 L582.5 423.6 L583.5 424.0 L584.5 424.4 L585.5 424.8 L586.5 425.2 L587.5 425.7 L588.5 426.1 L589.5 426.5 L590.5 426.9 L591.5 427.3 L592.5 427.6 L593.5 428.0 L594.5 428.3 L595.5 428.7 L596.5 429.0 L597.5 429.3 L598.5 429.6 L599.5 429.9 L600.5 430.2 L601.5 430.5 L602.5 430.8 L603.5 431.0 L604.5 431.2 L605.5 431.5 L606.5 431.7 L607.5 431.9 L608.5 432.1 L609.5 432.3 L610.5 432.5 L611.5 432.7 L612.5 432.9 L613.5 433.1 L614.5 433.2 L615.5 433.4 L616.5 433.6 L617.5 433.7 L618.5 433.9 L619.5 434.0 L620.5 434.1 L621.5 434.3 L622.5 434.4 L623.5 434.6 L624.5 434.7 L625.5 434.8 L626.5 434.9 L627.5 435.1 L628.5 435.2 L629.5 435.3 L630.5 435.4 L631.5 435.5 L632.5 435.5 L633.5 435.6 L634.5 435.7 L635.5 435.8 L636.5 435.9 L637.5 436.0 L638.5 436.1 L639.5 436.1 L640.5 436.2 L641.5 436.3 L642.5 436.3 L643.5 436.4 L644.5 436.4 L645.5 436.5 L646.5 436.5 L647.5 436.5 L648.5 436.5 L649.5 436.5 L650.5 436.5 L651.5 436.6 L652.5 436.6 L653.5 436.6" stroke="#c6cad2"/>
<path d="M82.5 50.6 L83.5 53.8 L84.5 57.0 L85.5 60.1 L86.5 63.0 L87.5 65.7 L88.5 68.4 L89.5 71.0 L90.5 73.5 L91.5 76.2 L92.5 79.0 L93.5 81.7 L94.5 84.5 L95.5 87.1 L96.5 89.7 L97.5 92.2 L98.5 94.5 L99.5 96.7 L100.5 98.6 L101.5 100.5 L102.5 102.2 L103.5 103.9 L104.5 105.5 L105.5 107.1 L106.5 108.5 L107.5 109.9 L108.5 111.2 L109.5 112.3 L110.5 113.4 L111.5 114.5 L112.5 115.6 L113.5 116.6 L114.5 117.4 L115.5 117.9 L116.5 118.2 L117.5 118.3 L118.5 118.4 L119.5 118.5 L120.5 118.5 L121.5 118.6 L122.5 118.6 L123.5 118.5 L124.5 118.3 L125.5 118.0 L126.5 117.5 L127.5 116.9 L128.5 116.3 L129.5 115.7 L130.5 115.1 L131.5 114.5 L132.5 114.0 L133.5 113.5 L134.5 112.9 L135.5 112.3 L136.5 111.7 L137.5 111.2 L138.5 110.8 L139.5 110.4 L140.5 110.1 L141.5 109.9 L142.5 109.7 L143.5 109.6 L144.5 109.4 L145.5 109.4 L146.5 109.3 L147.5 109.5 L148.5 109.8 L149.5 110.1 L150.5 110.6 L151.5 111.5 L152.5 112.6 L153.5 113.6 L154.5 114.6 L155.5 115.6 L156.5 116.7 L157.5 117.8 L158.5 119.2 L159.5 120.7 L160.5 122.3 L161.5 124.2 L162.5 126.3 L163.5 128.5 L164.5 130.8 L165.5 133.3 L166.5 136.0 L167.5 138.9 L168.5 141.8 L169.5 144.9 L170.5 148.0 L171.5 151.0 L172.5 154.2 L173.5 157.5 L174.5 160.8 L175.5 164.4 L176.5 168.0 L177.5 171.9 L178.5 176.0 L179.5 180.0 L180.5 183.9 L181.5 187.7 L182.5 191.4 L183.5 195.1 L184.5 198.7 L185.5 202.1 L186.5 205.4 L187.5 208.6 L188.5 211.8 L189.5 214.9 L190.5 218.2 L191.5 221.4 L192.5 224.8 L193.5 228.3 L194.5 231.8 L195.5 235.2 L196.5 238.4 L197.5 241.4 L198.5 244.0 L199.5 246.5 L200.5 248.8 L201.5 250.9 L202.5 253.0 L203.5 255.0 L204.5 257.1 L205.5 259.2 L206.5 261.2 L207.5 263.2 L208.5 265.1 L209.5 266.9 L210.5 268.6 L211.5 270.3 L212.5 271.8 L213.5 273.1 L214.5 274.5 L215.5 275.7 L216.5 277.0 L217.5 278.1 L218.5 279.2 L219.5 280.3 L220.5 281.4 L221.5 282.4 L222.5 283.3 L223.5 284.2 L224.5 284.8 L225.5 285.4 L226.5 285.9 L227.5 286.4 L228.5 286.8 L229.5 287.2 L230.5 287.5 L231.5 287.7 L232.5 287.8 L233.5 288.0 L234.5 288.0 L235.5 288.1 L236.5 288.2 L237.5 288.2 L238.5 288.3 L239.5 288.3 L240.5 288.3 L241.5 288.2 L242.5 288.1 L243.5 287.9 L244.5 287.8 L245.5 287.5 L246.5 287.3 L247.5 287.0 L248.5 286.7 L249.5 286.4 L250.5 286.1 L251.5 285.7 L252.5 285.3 L253.5 284.9 L254.5 284.5 L255.5 284.1 L256.5 283.7 L257.5 283.4 L258.5 283.0 L259.5 282.6 L260.5 282.3 L261.5 281.9 L262.5 281.5 L263.5 281.0 L264.5 280.5 L265.5 280.1 L266.5 279.6 L267.5 279.2 L268.5 278.7 L269.5 278.3 L270.5 277.9 L271.5 277.5 L272.5 277.1 L273.5 276.7 L274.5 276.3 L275.5 275.9 L276.5 275.5 L277.5 275.1 L278.5 274.8 L279.5 274.5 L280.5 274.2 L281.5 273.9 L282.5 273.7 L283.5 273.5 L284.5 273.3 L285.5 273.1 L286.5 272.9 L287.5 272.7 L288.5 272.5 L289.5 272.3 L290.5 272.2 L291.5 272.0 L292.5 271.9 L293.5 271.8 L294.5 271.8 L295.5 271.8 L296.5 271.8 L297.5 271.9 L298.5 271.9 L299.5 272.1 L300.5 272.4 L301.5 272.7 L302.5 273.2 L303.5 273.6 L304.5 274.1 L305.5 274.5 L306.5 274.9 L307.5 275.3 L308.5 275.8 L309.5 276.2 L310.5 276.7 L311.5 277.2 L312.5 277.7 L313.5 278.1 L314.5 278.6 L315.5 279.1 L316.5 279.5 L317.5 280.1 L318.5 280.6 L319.5 281.1 L320.5 281.7 L321.5 282.2 L322.5 282.7 L323.5 283.2 L324.5 283.7 L325.5 284.2 L326.5 284.7 L327.5 285.2 L328.5 285.7 L329.5 286.2 L330.5 286.7 L331.5 287.2 L332.5 287.6 L333.5 288.1 L334.5 288.5 L335.5 288.8 L336.5 289.1 L337.5 289.4 L338.5 289.6 L339.5 289.8 L340.5 290.1 L341.5 290.3 L342.5 290.4 L343.5 290.7 L344.5 290.9 L345.5 291.1 L346.5 291.3 L347.5 291.4 L348.5 291.6 L349.5 291.7 L350.5 291.8 L351.5 292.0 L352.5 292.2 L353.5 292.3 L354.5 292.4 L355.5 292.6 L356.5 292.7 L357.5 292.8 L358.5 292.8 L359.5 292.8 L360.5 292.8 L361.5 292.7 L362.5 292.5 L363.5 292.2 L364.5 291.9 L365.5 291.6 L366.5 291.2 L367.5 290.9 L368.5 290.5 L369.5 290.1 L370.5 289.8 L371.5 289.4 L372.5 289.0 L373.5 288.7 L374.5 288.4 L375.5 288.1 L376.5 287.8 L377.5 287.5 L378.5 287.2 L379.5 286.9 L380.5 286.5 L381.5 286.2 L382.5 285.8 L383.5 285.5 L384.5 285.1 L385.5 284.8 L386.5 284.5 L387.5 284.1 L388.5 283.8 L389.5 283.5 L390.5 283.1 L391.5 282.7 L392.5 282.3 L393.5 281.9 L394.5 281.5 L395.5 281.0 L396.5 280.6 L397.5 280.2 L398.5 279.7 L399.5 279.3 L400.5 278.9 L401.5 278.5 L402.5 278.1 L403.5 277.8 L404.5 277.5 L405.5 277.1 L406.5 276.8 L407.5 276.5 L408.5 276.2 L409.5 275.8 L410.5 275.5 L411.5 275.1 L412.5 274.7 L413.5 274.3 L414.5 273.9 L415.5 273.4 L416.5 273.0 L417.5 272.6 L418.5 272.1 L419.5 271.7 L420.5 271.2 L421.5 270.8 L422.5 270.3 L423.5 269.9 L424.5 269.4 L425.5 269.0 L426.5 268.6 L427.5 268.1 L428.5 267.7 L429.5 267.3 L430.5 266.9 L431.5 266.5 L432.5 266.1 L433.5 265.7 L434.5 265.3 L435.5 264.9 L436.5 264.6 L437.5 264.2 L438.5 263.8 L439.5 263.5 L440.5 263.2 L441.5 262.9 L442.5 262.6 L443.5 262.3 L444.5 262.0 L445.5 261.7 L446.5 261.5 L447.5 261.3 L448.5 261.1 L449.5 261.0 L450.5 261.0 L451.5 260.9 L452.5 260.8 L453.5 260.8 L454.5 260.7 L455.5 260.7 L456.5 260.7 L457.5 260.7 L458.5 260.8 L459.5 260.9 L460.5 260.9 L461.5 261.0 L462.5 261.1 L463.5 261.2 L464.5 261.3 L465.5 261.5 L466.5 261.7 L467.5 262.0 L468.5 262.4 L469.5 262.8 L470.5 263.2 L471.5 263.6 L472.5 264.0 L473.5 264.3 L474.5 264.7 L475.5 265.2 L476.5 265.7 L477.5 266.3 L478.5 266.8 L479.5 267.4 L480.5 268.0 L481.5 268.7 L482.5 269.3 L483.5 270.0 L484.5 270.8 L485.5 271.6 L486.5 272.6 L487.5 273.6 L488.5 274.8 L489.5 276.0 L490.5 277.2 L491.5 278.5 L492.5 279.9 L493.5 281.3 L494.5 282.9 L495.5 284.5 L496.5 286.2 L497.5 288.1 L498.5 290.1 L499.5 292.3 L500.5 295.0 L501.5 297.9 L502.5 300.3 L503.5 302.6 L504.5 304.8 L505.5 307.4 L506.5 310.2 L507.5 313.2 L508.5 316.2 L509.5 319.3 L510.5 322.5 L511.5 325.7 L512.5 328.9 L513.5 332.1 L514.5 335.0 L515.5 338.0 L516.5 341.3 L517.5 344.7 L518.5 348.3 L519.5 352.1 L520.5 355.5 L521.5 358.4 L522.5 361.2 L523.5 363.9 L524.5 366.5 L525.5 369.2 L526.5 371.7 L527.5 374.2 L528.5 376.6 L529.5 379.1 L530.5 381.4 L531.5 383.4 L532.5 385.1 L533.5 386.7 L534.5 388.0 L535.5 389.3 L536.5 390.6 L537.5 391.8 L538.5 393.0 L539.5 394.2 L540.5 395.3 L541.5 396.4 L542.5 397.5 L543.5 398.6 L544.5 399.7 L545.5 400.8 L546.5 401.9 L547.5 403.0 L548.5 404.0 L549.5 405.1 L550.5 406.1 L551.5 407.0 L552.5 407.9 L553.5 408.7 L554.5 409.5 L555.5 410.3 L556.5 411.0 L557.5 411.8 L558.5 412.5 L559.5 413.2 L560.5 413.8 L561.5 414.4 L562.5 415.0 L563.5 415.6 L564.5 416.1 L565.5 416.6 L566.5 417.1 L567.5 417.6 L568.5 418.1 L569.5 418.5 L570.5 419.0 L571.5 419.4 L572.5 419.8 L573.5 420.3 L574.5 420.7 L575.5 421.1 L576.5 421.5 L577.5 421.8 L578.5 422.2 L579.5 422.6 L580.5 422.9 L581.5 423.3 L582.5 423.7 L583.5 424.1 L584.5 424.5 L585.5 424.9 L586.5 425.3 L587.5 425.8 L588.5 426.2 L589.5 426.6 L590.5 427.0 L591.5 427.4 L592.5 427.7 L593.5 428.1 L594.5 428.5 L595.5 428.8 L596.5 429.1 L597.5 429.4 L598.5 429.8 L599.5 430.1 L600.5 430.3 L601.5 430.6 L602.5 430.9 L603.5 431.1 L604.5 431.4 L605.5 431.6 L606.5 431.8 L607.5 432.0 L608.5 432.2 L609.5 432.4 L610.5 432.6 L611.5 432.8 L612.5 433.0 L613.5 433.2 L614.5 433.3 L615.5 433.5 L616.5 433.7 L617.5 433.8 L618.5 434.0 L619.5 434.1 L620.5 434.3 L621.5 434.4 L622.5 434.5 L623.5 434.7 L624.5 434.8 L625.5 434.9 L626.5 435.1 L627.5 435.2 L628.5 435.3 L629.5 435.4 L630.5 435.5 L631.5 435.6 L632.5 435.7 L633.5 435.8 L634.5 435.8 L635.5 435.9 L636.5 436.0 L637.5 436.1 L638.5 436.2 L639.5 436.3 L640.5 436.3 L641.5 436.4 L642.5 436.5 L643.5 436.5 L644.5 436.5 L645.5 436.6 L646.5 436.6 L647.5 436.6 L648.5 436.6 L649.5 436.6 L650.5 436.7 L651.5 436.7 L652.5 436.7 L653.5 436.7" stroke="#a3a04a"/>
<path d="M82.5 48.8 L83.5 51.9 L84.5 55.1 L85.5 58.1 L86.5 61.0 L87.5 63.6 L88.5 66.1 L89.5 68.6 L90.5 71.0 L91.5 73.6 L92.5 76.4 L93.5 79.2 L94.5 81.9 L95.5 84.6 L96.5 87.2 L97.5 89.8 L98.5 92.1 L99.5 94.4 L100.5 96.3 L101.5 98.1 L102.5 99.9 L103.5 101.5 L104.5 103.1 L105.5 104.7 L106.5 106.1 L107.5 107.4 L108.5 108.7 L109.5 109.9 L110.5 111.0 L111.5 112.1 L112.5 113.2 L113.5 114.2 L114.5 115.0 L115.5 115.6 L116.5 115.8 L117.5 115.9 L118.5 116.0 L119.5 116.1 L120.5 116.2 L121.5 116.2 L122.5 116.2 L123.5 116.2 L124.5 115.9 L125.5 115.5 L126.5 115.0 L127.5 114.4 L128.5 113.8 L129.5 113.2 L130.5 112.6 L131.5 112.0 L132.5 111.5 L133.5 110.9 L134.5 110.3 L135.5 109.7 L136.5 109.2 L137.5 108.7 L138.5 108.2 L139.5 107.9 L140.5 107.6 L141.5 107.5 L142.5 107.3 L143.5 107.2 L144.5 107.0 L145.5 107.0 L146.5 107.0 L147.5 107.1 L148.5 107.4 L149.5 107.8 L150.5 108.3 L151.5 109.2 L152.5 110.3 L153.5 111.3 L154.5 112.4 L155.5 113.4 L156.5 114.6 L157.5 115.8 L158.5 117.2 L159.5 118.8 L160.5 120.5 L161.5 122.5 L162.5 124.7 L163.5 127.0 L164.5 129.4 L165.5 132.0 L166.5 134.8 L167.5 137.7 L168.5 140.8 L169.5 143.9 L170.5 147.1 L171.5 150.3 L172.5 153.5 L173.5 156.9 L174.5 160.5 L175.5 164.1 L176.5 167.9 L177.5 171.9 L178.5 175.9 L179.5 179.9 L180.5 183.8 L181.5 187.7 L182.5 191.5 L183.5 195.3 L184.5 199.0 L185.5 202.6 L186.5 206.1 L187.5 209.4 L188.5 212.7 L189.5 215.9 L190.5 219.3 L191.5 222.6 L192.5 226.1 L193.5 229.6 L194.5 233.1 L195.5 236.5 L196.5 239.8 L197.5 242.9 L198.5 245.8 L199.5 248.4 L200.5 250.8 L201.5 253.1 L202.5 255.4 L203.5 257.5 L204.5 259.7 L205.5 261.9 L206.5 264.0 L207.5 266.2 L208.5 268.2 L209.5 270.2 L210.5 272.0 L211.5 273.8 L212.5 275.5 L213.5 276.9 L214.5 278.3 L215.5 279.7 L216.5 281.0 L217.5 282.2 L218.5 283.4 L219.5 284.5 L220.5 285.6 L221.5 286.6 L222.5 287.6 L223.5 288.5 L224.5 289.3 L225.5 289.9 L226.5 290.5 L227.5 291.0 L228.5 291.5 L229.5 291.9 L230.5 292.3 L231.5 292.5 L232.5 292.8 L233.5 292.9 L234.5 293.1 L235.5 293.2 L236.5 293.4 L237.5 293.5 L238.5 293.6 L239.5 293.6 L240.5 293.6 L241.5 293.6 L242.5 293.5 L243.5 293.4 L244.5 293.2 L245.5 293.0 L246.5 292.8 L247.5 292.6 L248.5 292.3 L249.5 292.0 L250.5 291.7 L251.5 291.3 L252.5 290.9 L253.5 290.5 L254.5 290.0 L255.5 289.7 L256.5 289.3 L257.5 288.9 L258.5 288.5 L259.5 288.2 L260.5 287.8 L261.5 287.4 L262.5 287.0 L263.5 286.5 L264.5 286.0 L265.5 285.5 L266.5 285.0 L267.5 284.6 L268.5 284.1 L269.5 283.7 L270.5 283.3 L271.5 282.9 L272.5 282.4 L273.5 282.0 L274.5 281.6 L275.5 281.1 L276.5 280.7 L277.5 280.3 L278.5 280.0 L279.5 279.6 L280.5 279.2 L281.5 278.9 L282.5 278.6 L283.5 278.3 L284.5 278.0 L285.5 277.7 L286.5 277.5 L287.5 277.2 L288.5 277.0 L289.5 276.7 L290.5 276.5 L291.5 276.3 L292.5 276.1 L293.5 275.9 L294.5 275.9 L295.5 275.9 L296.5 275.9 L297.5 275.9 L298.5 275.9 L299.5 276.1 L300.5 276.3 L301.5 276.5 L302.5 276.8 L303.5 277.2 L304.5 277.5 L305.5 277.8 L306.5 278.2 L307.5 278.5 L308.5 278.8 L309.5 279.2 L310.5 279.5 L311.5 279.9 L312.5 280.3 L313.5 280.7 L314.5 281.0 L315.5 281.4 L316.5 281.8 L317.5 282.2 L318.5 282.7 L319.5 283.2 L320.5 283.7 L321.5 284.1 L322.5 284.6 L323.5 285.0 L324.5 285.4 L325.5 285.8 L326.5 286.2 L327.5 286.6 L328.5 287.1 L329.5 287.5 L330.5 287.9 L331.5 288.2 L332.5 288.6 L333.5 288.9 L334.5 289.2 L335.5 289.5 L336.5 289.7 L337.5 289.9 L338.5 290.0 L339.5 290.2 L340.5 290.3 L341.5 290.5 L342.5 290.6 L343.5 290.7 L344.5 290.9 L345.5 291.1 L346.5 291.2 L347.5 291.3 L348.5 291.4 L349.5 291.4 L350.5 291.5 L351.5 291.6 L352.5 291.7 L353.5 291.8 L354.5 291.8 L355.5 291.8 L356.5 291.9 L357.5 291.9 L358.5 291.9 L359.5 291.8 L360.5 291.7 L361.5 291.6 L362.5 291.3 L363.5 291.0 L364.5 290.7 L365.5 290.3 L366.5 289.9 L367.5 289.6 L368.5 289.2 L369.5 288.8 L370.5 288.4 L371.5 288.0 L372.5 287.6 L373.5 287.2 L374.5 286.9 L375.5 286.5 L376.5 286.2 L377.5 285.8 L378.5 285.4 L379.5 285.1 L380.5 284.7 L381.5 284.3 L382.5 283.9 L383.5 283.5 L384.5 283.2 L385.5 282.8 L386.5 282.4 L387.5 282.1 L388.5 281.7 L389.5 281.3 L390.5 281.0 L391.5 280.6 L392.5 280.1 L393.5 279.7 L394.5 279.3 L395.5 278.8 L396.5 278.4 L397.5 278.0 L398.5 277.5 L399.5 277.1 L400.5 276.7 L401.5 276.3 L402.5 275.9 L403.5 275.6 L404.5 275.2 L405.5 274.9 L406.5 274.5 L407.5 274.2 L408.5 273.8 L409.5 273.4 L410.5 273.1 L411.5 272.7 L412.5 272.3 L413.5 271.8 L414.5 271.4 L415.5 271.0 L416.5 270.5 L417.5 270.0 L418.5 269.6 L419.5 269.1 L420.5 268.7 L421.5 268.2 L422.5 267.8 L423.5 267.3 L424.5 266.9 L425.5 266.4 L426.5 266.0 L427.5 265.5 L428.5 265.1 L429.5 264.6 L430.5 264.2 L431.5 263.8 L432.5 263.4 L433.5 263.0 L434.5 262.6 L435.5 262.2 L436.5 261.8 L437.5 261.4 L438.5 261.1 L439.5 260.7 L440.5 260.3 L441.5 260.0 L442.5 259.7 L443.5 259.4 L444.5 259.0 L445.5 258.8 L446.5 258.5 L447.5 258.4 L448.5 258.3 L449.5 258.2 L450.5 258.1 L451.5 258.0 L452.5 258.0 L453.5 257.9 L454.5 257.9 L455.5 257.9 L456.5 257.9 L457.5 257.9 L458.5 258.0 L459.5 258.0 L460.5 258.1 L461.5 258.2 L462.5 258.3 L463.5 258.3 L464.5 258.4 L465.5 258.6 L466.5 258.9 L467.5 259.2 L468.5 259.6 L469.5 260.0 L470.5 260.4 L471.5 260.8 L472.5 261.2 L473.5 261.6 L474.5 262.0 L475.5 262.5 L476.5 263.1 L477.5 263.6 L478.5 264.2 L479.5 264.8 L480.5 265.5 L481.5 266.1 L482.5 266.8 L483.5 267.6 L484.5 268.4 L485.5 269.3 L486.5 270.3 L487.5 271.4 L488.5 272.5 L489.5 273.7 L490.5 274.9 L491.5 276.2 L492.5 277.6 L493.5 279.1 L494.5 280.6 L495.5 282.2 L496.5 284.0 L497.5 285.8 L498.5 287.8 L499.5 290.0 L500.5 292.6 L501.5 295.3 L502.5 297.7 L503.5 300.1 L504.5 302.4 L505.5 305.1 L506.5 308.0 L507.5 311.1 L508.5 314.2 L509.5 317.3 L510.5 320.6 L511.5 323.9 L512.5 327.2 L513.5 330.4 L514.5 333.4 L515.5 336.5 L516.5 339.8 L517.5 343.2 L518.5 346.8 L519.5 351.0 L520.5 354.7 L521.5 357.7 L522.5 360.6 L523.5 363.3 L524.5 366.0 L525.5 368.6 L526.5 371.1 L527.5 373.6 L528.5 376.1 L529.5 378.5 L530.5 380.9 L531.5 383.0 L532.5 384.8 L533.5 386.3 L534.5 387.8 L535.5 389.1 L536.5 390.4 L537.5 391.6 L538.5 392.8 L539.5 394.0 L540.5 395.1 L541.5 396.3 L542.5 397.4 L543.5 398.4 L544.5 399.5 L545.5 400.6 L546.5 401.7 L547.5 402.8 L548.5 403.9 L549.5 405.0 L550.5 406.0 L551.5 406.9 L552.5 407.8 L553.5 408.6 L554.5 409.4 L555.5 410.2 L556.5 411.0 L557.5 411.7 L558.5 412.4 L559.5 413.1 L560.5 413.8 L561.5 414.4 L562.5 415.0 L563.5 415.6 L564.5 416.1 L565.5 416.7 L566.5 417.2 L567.5 417.7 L568.5 418.2 L569.5 418.6 L570.5 419.1 L571.5 419.5 L572.5 419.9 L573.5 420.4 L574.5 420.8 L575.5 421.2 L576.5 421.6 L577.5 422.0 L578.5 422.3 L579.5 422.7 L580.5 423.1 L581.5 423.5 L582.5 423.8 L583.5 424.2 L584.5 424.6 L585.5 425.0 L586.5 425.5 L587.5 426.0 L588.5 426.4 L589.5 426.8 L590.5 427.2 L591.5 427.5 L592.5 427.9 L593.5 428.3 L594.5 428.6 L595.5 428.9 L596.5 429.3 L597.5 429.6 L598.5 429.9 L599.5 430.2 L600.5 430.5 L601.5 430.8 L602.5 431.0 L603.5 431.3 L604.5 431.5 L605.5 431.7 L606.5 432.0 L607.5 432.2 L608.5 432.4 L609.5 432.6 L610.5 432.8 L611.5 433.0 L612.5 433.1 L613.5 433.3 L614.5 433.5 L615.5 433.7 L616.5 433.8 L617.5 434.0 L618.5 434.1 L619.5 434.3 L620.5 434.4 L621.5 434.6 L622.5 434.7 L623.5 434.8 L624.5 435.0 L625.5 435.1 L626.5 435.2 L627.5 435.3 L628.5 435.4 L629.5 435.5 L630.5 435.6 L631.5 435.7 L632.5 435.8 L633.5 435.9 L634.5 436.0 L635.5 436.1 L636.5 436.2 L637.5 436.3 L638.5 436.3 L639.5 436.4 L640.5 436.5 L641.5 436.5 L642.5 436.6 L643.5 436.7 L644.5 436.7 L645.5 436.7 L646.5 436.7 L647.5 436.8 L648.5 436.8 L649.5 436.8 L650.5 436.8 L651.5 436.8 L652.5 436.8 L653.5 436.8" stroke="#8a3a98"/>
<path d="M82.5 47.7 L83.5 50.9 L84.5 54.0 L85.5 57.1 L86.5 59.8 L87.5 62.4 L88.5 64.8 L89.5 67.2 L90.5 69.5 L91.5 72.1 L92.5 74.9 L93.5 77.7 L94.5 80.5 L95.5 83.2 L96.5 85.9 L97.5 88.4 L98.5 90.8 L99.5 93.1 L100.5 95.0 L101.5 96.8 L102.5 98.6 L103.5 100.2 L104.5 101.8 L105.5 103.3 L106.5 104.7 L107.5 106.1 L108.5 107.3 L109.5 108.5 L110.5 109.6 L111.5 110.7 L112.5 111.8 L113.5 112.8 L114.5 113.6 L115.5 114.2 L116.5 114.5 L117.5 114.6 L118.5 114.7 L119.5 114.8 L120.5 114.9 L121.5 114.9 L122.5 114.9 L123.5 114.8 L124.5 114.6 L125.5 114.1 L126.5 113.6 L127.5 113.0 L128.5 112.4 L129.5 111.7 L130.5 111.2 L131.5 110.6 L132.5 110.0 L133.5 109.5 L134.5 108.9 L135.5 108.3 L136.5 107.7 L137.5 107.2 L138.5 106.8 L139.5 106.4 L140.5 106.2 L141.5 106.1 L142.5 105.9 L143.5 105.8 L144.5 105.7 L145.5 105.6 L146.5 105.6 L147.5 105.8 L148.5 106.1 L149.5 106.6 L150.5 107.1 L151.5 107.9 L152.5 109.0 L153.5 110.0 L154.5 111.1 L155.5 112.2 L156.5 113.4 L157.5 114.7 L158.5 116.1 L159.5 117.7 L160.5 119.5 L161.5 121.5 L162.5 123.8 L163.5 126.1 L164.5 128.7 L165.5 131.3 L166.5 134.1 L167.5 137.1 L168.5 140.2 L169.5 143.3 L170.5 146.6 L171.5 149.8 L172.5 153.2 L173.5 156.7 L174.5 160.3 L175.5 164.0 L176.5 167.8 L177.5 171.8 L178.5 175.9 L179.5 179.9 L180.5 183.8 L181.5 187.7 L182.5 191.6 L183.5 195.4 L184.5 199.2 L185.5 202.9 L186.5 206.4 L187.5 209.8 L188.5 213.2 L189.5 216.5 L190.5 219.9 L191.5 223.3 L192.5 226.8 L193.5 230.4 L194.5 233.9 L195.5 237.3 L196.5 240.6 L197.5 243.8 L198.5 246.8 L199.5 249.5 L200.5 252.0 L201.5 254.4 L202.5 256.7 L203.5 258.9 L204.5 261.1 L205.5 263.4 L206.5 265.6 L207.5 267.8 L208.5 270.0 L209.5 272.0 L210.5 274.0 L211.5 275.8 L212.5 277.5 L213.5 279.0 L214.5 280.5 L215.5 281.9 L216.5 283.2 L217.5 284.5 L218.5 285.7 L219.5 286.9 L220.5 288.0 L221.5 289.0 L222.5 290.0 L223.5 290.9 L224.5 291.7 L225.5 292.4 L226.5 293.1 L227.5 293.6 L228.5 294.1 L229.5 294.6 L230.5 294.9 L231.5 295.3 L232.5 295.5 L233.5 295.7 L234.5 295.9 L235.5 296.1 L236.5 296.3 L237.5 296.4 L238.5 296.5 L239.5 296.6 L240.5 296.6 L241.5 296.6 L242.5 296.5 L243.5 296.4 L244.5 296.3 L245.5 296.1 L246.5 295.9 L247.5 295.7 L248.5 295.4 L249.5 295.1 L250.5 294.8 L251.5 294.4 L252.5 294.0 L253.5 293.6 L254.5 293.2 L255.5 292.8 L256.5 292.4 L257.5 292.0 L258.5 291.7 L259.5 291.3 L260.5 290.9 L261.5 290.5 L262.5 290.0 L263.5 289.6 L264.5 289.1 L265.5 288.6 L266.5 288.1 L267.5 287.6 L268.5 287.2 L269.5 286.7 L270.5 286.3 L271.5 285.9 L272.5 285.4 L273.5 285.0 L274.5 284.5 L275.5 284.1 L276.5 283.7 L277.5 283.3 L278.5 282.8 L279.5 282.5 L280.5 282.1 L281.5 281.7 L282.5 281.4 L283.5 281.0 L284.5 280.7 L285.5 280.4 L286.5 280.1 L287.5 279.8 L288.5 279.5 L289.5 279.2 L290.5 279.0 L291.5 278.7 L292.5 278.5 L293.5 278.3 L294.5 278.2 L295.5 278.2 L296.5 278.2 L297.5 278.2 L298.5 278.2 L299.5 278.3 L300.5 278.4 L301.5 278.7 L302.5 278.9 L303.5 279.2 L304.5 279.5 L305.5 279.7 L306.5 280.0 L307.5 280.3 L308.5 280.5 L309.5 280.8 L310.5 281.1 L311.5 281.5 L312.5 281.8 L313.5 282.1 L314.5 282.4 L315.5 282.7 L316.5 283.1 L317.5 283.5 L318.5 283.9 L319.5 284.4 L320.5 284.8 L321.5 285.2 L322.5 285.6 L323.5 286.0 L324.5 286.4 L325.5 286.7 L326.5 287.1 L327.5 287.5 L328.5 287.8 L329.5 288.2 L330.5 288.5 L331.5 288.8 L332.5 289.1 L333.5 289.4 L334.5 289.7 L335.5 289.9 L336.5 290.0 L337.5 290.1 L338.5 290.3 L339.5 290.4 L340.5 290.5 L341.5 290.6 L342.5 290.7 L343.5 290.8 L344.5 290.9 L345.5 291.0 L346.5 291.1 L347.5 291.2 L348.5 291.3 L349.5 291.3 L350.5 291.3 L351.5 291.4 L352.5 291.4 L353.5 291.5 L354.5 291.5 L355.5 291.5 L356.5 291.5 L357.5 291.4 L358.5 291.4 L359.5 291.3 L360.5 291.1 L361.5 290.9 L362.5 290.7 L363.5 290.4 L364.5 290.0 L365.5 289.6 L366.5 289.2 L367.5 288.8 L368.5 288.4 L369.5 288.0 L370.5 287.6 L371.5 287.2 L372.5 286.8 L373.5 286.4 L374.5 286.0 L375.5 285.6 L376.5 285.2 L377.5 284.8 L378.5 284.4 L379.5 284.1 L380.5 283.7 L381.5 283.2 L382.5 282.8 L383.5 282.4 L384.5 282.1 L385.5 281.7 L386.5 281.3 L387.5 280.9 L388.5 280.5 L389.5 280.1 L390.5 279.8 L391.5 279.3 L392.5 278.9 L393.5 278.5 L394.5 278.0 L395.5 277.6 L396.5 277.2 L397.5 276.7 L398.5 276.3 L399.5 275.9 L400.5 275.5 L401.5 275.1 L402.5 274.7 L403.5 274.3 L404.5 274.0 L405.5 273.6 L406.5 273.2 L407.5 272.9 L408.5 272.5 L409.5 272.1 L410.5 271.7 L411.5 271.3 L412.5 270.9 L413.5 270.5 L414.5 270.0 L415.5 269.6 L416.5 269.1 L417.5 268.6 L418.5 268.2 L419.5 267.7 L420.5 267.3 L421.5 266.8 L422.5 266.3 L423.5 265.9 L424.5 265.4 L425.5 264.9 L426.5 264.5 L427.5 264.0 L428.5 263.6 L429.5 263.1 L430.5 262.7 L431.5 262.3 L432.5 261.9 L433.5 261.5 L434.5 261.1 L435.5 260.7 L436.5 260.3 L437.5 259.9 L438.5 259.5 L439.5 259.1 L440.5 258.8 L441.5 258.4 L442.5 258.1 L443.5 257.7 L444.5 257.4 L445.5 257.1 L446.5 256.9 L447.5 256.8 L448.5 256.7 L449.5 256.6 L450.5 256.5 L451.5 256.4 L452.5 256.4 L453.5 256.3 L454.5 256.3 L455.5 256.3 L456.5 256.3 L457.5 256.4 L458.5 256.4 L459.5 256.4 L460.5 256.5 L461.5 256.6 L462.5 256.7 L463.5 256.7 L464.5 256.8 L465.5 257.0 L466.5 257.3 L467.5 257.6 L468.5 258.0 L469.5 258.4 L470.5 258.8 L471.5 259.2 L472.5 259.7 L473.5 260.1 L474.5 260.5 L475.5 261.0 L476.5 261.6 L477.5 262.2 L478.5 262.8 L479.5 263.4 L480.5 264.0 L481.5 264.7 L482.5 265.4 L483.5 266.2 L484.5 267.0 L485.5 268.0 L486.5 269.0 L487.5 270.1 L488.5 271.2 L489.5 272.4 L490.5 273.6 L491.5 274.9 L492.5 276.3 L493.5 277.8 L494.5 279.4 L495.5 281.0 L496.5 282.7 L497.5 284.6 L498.5 286.5 L499.5 288.6 L500.5 291.2 L501.5 293.8 L502.5 296.3 L503.5 298.6 L504.5 301.1 L505.5 303.8 L506.5 306.7 L507.5 309.9 L508.5 313.0 L509.5 316.2 L510.5 319.5 L511.5 322.8 L512.5 326.2 L513.5 329.4 L514.5 332.5 L515.5 335.6 L516.5 338.9 L517.5 342.3 L518.5 346.0 L519.5 350.4 L520.5 354.2 L521.5 357.3 L522.5 360.2 L523.5 362.9 L524.5 365.6 L525.5 368.3 L526.5 370.8 L527.5 373.3 L528.5 375.8 L529.5 378.2 L530.5 380.6 L531.5 382.7 L532.5 384.6 L533.5 386.1 L534.5 387.6 L535.5 388.9 L536.5 390.2 L537.5 391.5 L538.5 392.7 L539.5 393.9 L540.5 395.0 L541.5 396.2 L542.5 397.3 L543.5 398.4 L544.5 399.5 L545.5 400.6 L546.5 401.7 L547.5 402.8 L548.5 403.8 L549.5 404.9 L550.5 405.9 L551.5 406.9 L552.5 407.7 L553.5 408.6 L554.5 409.4 L555.5 410.2 L556.5 411.0 L557.5 411.7 L558.5 412.4 L559.5 413.1 L560.5 413.8 L561.5 414.4 L562.5 415.0 L563.5 415.6 L564.5 416.2 L565.5 416.7 L566.5 417.2 L567.5 417.7 L568.5 418.2 L569.5 418.7 L570.5 419.1 L571.5 419.6 L572.5 420.0 L573.5 420.4 L574.5 420.9 L575.5 421.3 L576.5 421.7 L577.5 422.1 L578.5 422.4 L579.5 422.8 L580.5 423.2 L581.5 423.5 L582.5 423.9 L583.5 424.3 L584.5 424.7 L585.5 425.1 L586.5 425.6 L587.5 426.0 L588.5 426.5 L589.5 426.9 L590.5 427.2 L591.5 427.6 L592.5 428.0 L593.5 428.3 L594.5 428.7 L595.5 429.0 L596.5 429.4 L597.5 429.7 L598.5 430.0 L599.5 430.3 L600.5 430.6 L601.5 430.9 L602.5 431.1 L603.5 431.4 L604.5 431.6 L605.5 431.8 L606.5 432.0 L607.5 432.3 L608.5 432.5 L609.5 432.7 L610.5 432.9 L611.5 433.0 L612.5 433.2 L613.5 433.4 L614.5 433.6 L615.5 433.7 L616.5 433.9 L617.5 434.1 L618.5 434.2 L619.5 434.4 L620.5 434.5 L621.5 434.6 L622.5 434.8 L623.5 434.9 L624.5 435.0 L625.5 435.2 L626.5 435.3 L627.5 435.4 L628.5 435.5 L629.5 435.6 L630.5 435.7 L631.5 435.8 L632.5 435.9 L633.5 436.0 L634.5 436.1 L635.5 436.2 L636.5 436.3 L637.5 436.3 L638.5 436.4 L639.5 436.5 L640.5 436.6 L641.5 436.6 L642.5 436.7 L643.5 436.7 L644.5 436.8 L645.5 436.8 L646.5 436.8 L647.5 436.8 L648.5 436.9 L649.5 436.9 L650.5 436.9 L651.5 436.9 L652.5 436.9 L653.5 436.9" stroke="#2a8686"/>
<path d="M82.5 46.8 L83.5 49.9 L84.5 53.0 L85.5 56.1 L86.5 58.8 L87.5 61.3 L88.5 63.7 L89.5 66.0 L90.5 68.3 L91.5 70.8 L92.5 73.7 L93.5 76.5 L94.5 79.2 L95.5 81.9 L96.5 84.6 L97.5 87.2 L98.5 89.6 L99.5 91.9 L100.5 93.9 L101.5 95.7 L102.5 97.4 L103.5 99.0 L104.5 100.6 L105.5 102.1 L106.5 103.5 L107.5 104.9 L108.5 106.1 L109.5 107.3 L110.5 108.4 L111.5 109.5 L112.5 110.6 L113.5 111.6 L114.5 112.4 L115.5 113.0 L116.5 113.3 L117.5 113.4 L118.5 113.5 L119.5 113.6 L120.5 113.7 L121.5 113.7 L122.5 113.7 L123.5 113.6 L124.5 113.3 L125.5 112.9 L126.5 112.4 L127.5 111.7 L128.5 111.1 L129.5 110.5 L130.5 109.9 L131.5 109.3 L132.5 108.8 L133.5 108.2 L134.5 107.6 L135.5 107.0 L136.5 106.4 L137.5 105.9 L138.5 105.5 L139.5 105.2 L140.5 105.0 L141.5 104.8 L142.5 104.7 L143.5 104.6 L144.5 104.5 L145.5 104.4 L146.5 104.4 L147.5 104.6 L148.5 105.0 L149.5 105.4 L150.5 105.9 L151.5 106.8 L152.5 107.8 L153.5 108.9 L154.5 110.0 L155.5 111.1 L156.5 112.3 L157.5 113.7 L158.5 115.2 L159.5 116.8 L160.5 118.6 L161.5 120.7 L162.5 123.0 L163.5 125.4 L164.5 128.0 L165.5 130.7 L166.5 133.6 L167.5 136.5 L168.5 139.6 L169.5 142.8 L170.5 146.1 L171.5 149.4 L172.5 152.9 L173.5 156.4 L174.5 160.1 L175.5 163.9 L176.5 167.8 L177.5 171.8 L178.5 175.8 L179.5 179.9 L180.5 183.8 L181.5 187.7 L182.5 191.6 L183.5 195.5 L184.5 199.3 L185.5 203.1 L186.5 206.7 L187.5 210.2 L188.5 213.6 L189.5 217.0 L190.5 220.5 L191.5 224.0 L192.5 227.5 L193.5 231.0 L194.5 234.5 L195.5 237.9 L196.5 241.3 L197.5 244.6 L198.5 247.7 L199.5 250.5 L200.5 253.0 L201.5 255.5 L202.5 257.8 L203.5 260.1 L204.5 262.4 L205.5 264.7 L206.5 267.1 L207.5 269.3 L208.5 271.5 L209.5 273.6 L210.5 275.7 L211.5 277.6 L212.5 279.4 L213.5 280.9 L214.5 282.4 L215.5 283.8 L216.5 285.2 L217.5 286.5 L218.5 287.7 L219.5 288.9 L220.5 290.1 L221.5 291.1 L222.5 292.2 L223.5 293.1 L224.5 293.9 L225.5 294.7 L226.5 295.3 L227.5 295.9 L228.5 296.4 L229.5 296.9 L230.5 297.3 L231.5 297.7 L232.5 298.0 L233.5 298.2 L234.5 298.4 L235.5 298.6 L236.5 298.8 L237.5 299.0 L238.5 299.2 L239.5 299.3 L240.5 299.3 L241.5 299.3 L242.5 299.2 L243.5 299.1 L244.5 299.0 L245.5 298.8 L246.5 298.7 L247.5 298.5 L248.5 298.2 L249.5 297.9 L250.5 297.6 L251.5 297.2 L252.5 296.8 L253.5 296.4 L254.5 295.9 L255.5 295.6 L256.5 295.2 L257.5 294.8 L258.5 294.4 L259.5 294.0 L260.5 293.6 L261.5 293.2 L262.5 292.8 L263.5 292.3 L264.5 291.8 L265.5 291.3 L266.5 290.8 L267.5 290.3 L268.5 289.9 L269.5 289.4 L270.5 289.0 L271.5 288.5 L272.5 288.1 L273.5 287.6 L274.5 287.2 L275.5 286.7 L276.5 286.3 L277.5 285.8 L278.5 285.4 L279.5 285.0 L280.5 284.6 L281.5 284.2 L282.5 283.8 L283.5 283.4 L284.5 283.1 L285.5 282.7 L286.5 282.4 L287.5 282.1 L288.5 281.8 L289.5 281.4 L290.5 281.1 L291.5 280.8 L292.5 280.6 L293.5 280.4 L294.5 280.2 L295.5 280.2 L296.5 280.2 L297.5 280.2 L298.5 280.2 L299.5 280.3 L300.5 280.4 L301.5 280.5 L302.5 280.8 L303.5 281.0 L304.5 281.2 L305.5 281.4 L306.5 281.6 L307.5 281.8 L308.5 282.1 L309.5 282.3 L310.5 282.6 L311.5 282.8 L312.5 283.1 L313.5 283.3 L314.5 283.6 L315.5 283.9 L316.5 284.2 L317.5 284.6 L318.5 285.0 L319.5 285.4 L320.5 285.8 L321.5 286.2 L322.5 286.6 L323.5 286.9 L324.5 287.2 L325.5 287.5 L326.5 287.9 L327.5 288.2 L328.5 288.5 L329.5 288.8 L330.5 289.1 L331.5 289.4 L332.5 289.6 L333.5 289.8 L334.5 290.0 L335.5 290.2 L336.5 290.3 L337.5 290.4 L338.5 290.5 L339.5 290.6 L340.5 290.6 L341.5 290.7 L342.5 290.7 L343.5 290.8 L344.5 290.9 L345.5 291.0 L346.5 291.1 L347.5 291.1 L348.5 291.2 L349.5 291.2 L350.5 291.2 L351.5 291.2 L352.5 291.2 L353.5 291.2 L354.5 291.1 L355.5 291.1 L356.5 291.1 L357.5 291.0 L358.5 290.9 L359.5 290.8 L360.5 290.6 L361.5 290.4 L362.5 290.1 L363.5 289.7 L364.5 289.4 L365.5 289.0 L366.5 288.6 L367.5 288.2 L368.5 287.7 L369.5 287.3 L370.5 286.9 L371.5 286.5 L372.5 286.0 L373.5 285.6 L374.5 285.2 L375.5 284.8 L376.5 284.4 L377.5 284.0 L378.5 283.6 L379.5 283.2 L380.5 282.7 L381.5 282.3 L382.5 281.9 L383.5 281.5 L384.5 281.1 L385.5 280.7 L386.5 280.3 L387.5 279.9 L388.5 279.5 L389.5 279.1 L390.5 278.7 L391.5 278.2 L392.5 277.8 L393.5 277.4 L394.5 276.9 L395.5 276.5 L396.5 276.1 L397.5 275.6 L398.5 275.2 L399.5 274.8 L400.5 274.4 L401.5 274.0 L402.5 273.6 L403.5 273.2 L404.5 272.8 L405.5 272.5 L406.5 272.1 L407.5 271.7 L408.5 271.3 L409.5 270.9 L410.5 270.5 L411.5 270.1 L412.5 269.7 L413.5 269.2 L414.5 268.8 L415.5 268.3 L416.5 267.9 L417.5 267.4 L418.5 266.9 L419.5 266.5 L420.5 266.0 L421.5 265.5 L422.5 265.1 L423.5 264.6 L424.5 264.1 L425.5 263.6 L426.5 263.2 L427.5 262.7 L428.5 262.3 L429.5 261.8 L430.5 261.4 L431.5 261.0 L432.5 260.5 L433.5 260.1 L434.5 259.7 L435.5 259.3 L436.5 258.9 L437.5 258.5 L438.5 258.1 L439.5 257.7 L440.5 257.3 L441.5 257.0 L442.5 256.6 L443.5 256.3 L444.5 255.9 L445.5 255.6 L446.5 255.4 L447.5 255.3 L448.5 255.2 L449.5 255.1 L450.5 255.1 L451.5 255.0 L452.5 255.0 L453.5 254.9 L454.5 254.9 L455.5 254.9 L456.5 254.9 L457.5 254.9 L458.5 255.0 L459.5 255.0 L460.5 255.1 L461.5 255.2 L462.5 255.2 L463.5 255.3 L464.5 255.4 L465.5 255.6 L466.5 255.9 L467.5 256.2 L468.5 256.6 L469.5 257.0 L470.5 257.4 L471.5 257.9 L472.5 258.3 L473.5 258.7 L474.5 259.2 L475.5 259.7 L476.5 260.3 L477.5 260.9 L478.5 261.5 L479.5 262.1 L480.5 262.8 L481.5 263.5 L482.5 264.2 L483.5 265.0 L484.5 265.8 L485.5 266.8 L486.5 267.8 L487.5 268.9 L488.5 270.0 L489.5 271.2 L490.5 272.4 L491.5 273.8 L492.5 275.2 L493.5 276.7 L494.5 278.2 L495.5 279.9 L496.5 281.6 L497.5 283.4 L498.5 285.4 L499.5 287.5 L500.5 289.9 L501.5 292.5 L502.5 295.0 L503.5 297.4 L504.5 299.9 L505.5 302.6 L506.5 305.6 L507.5 308.8 L508.5 312.0 L509.5 315.2 L510.5 318.5 L511.5 321.9 L512.5 325.3 L513.5 328.5 L514.5 331.7 L515.5 334.8 L516.5 338.1 L517.5 341.6 L518.5 345.3 L519.5 349.9 L520.5 353.8 L521.5 357.0 L522.5 359.9 L523.5 362.6 L524.5 365.3 L525.5 368.0 L526.5 370.5 L527.5 373.0 L528.5 375.5 L529.5 377.9 L530.5 380.3 L531.5 382.5 L532.5 384.4 L533.5 386.0 L534.5 387.4 L535.5 388.8 L536.5 390.1 L537.5 391.3 L538.5 392.6 L539.5 393.8 L540.5 395.0 L541.5 396.1 L542.5 397.2 L543.5 398.3 L544.5 399.4 L545.5 400.5 L546.5 401.6 L547.5 402.7 L548.5 403.8 L549.5 404.8 L550.5 405.9 L551.5 406.8 L552.5 407.7 L553.5 408.6 L554.5 409.4 L555.5 410.2 L556.5 410.9 L557.5 411.7 L558.5 412.4 L559.5 413.1 L560.5 413.7 L561.5 414.4 L562.5 415.0 L563.5 415.6 L564.5 416.2 L565.5 416.7 L566.5 417.2 L567.5 417.7 L568.5 418.2 L569.5 418.7 L570.5 419.1 L571.5 419.6 L572.5 420.0 L573.5 420.5 L574.5 420.9 L575.5 421.3 L576.5 421.7 L577.5 422.1 L578.5 422.5 L579.5 422.9 L580.5 423.2 L581.5 423.6 L582.5 424.0 L583.5 424.4 L584.5 424.8 L585.5 425.2 L586.5 425.7 L587.5 426.1 L588.5 426.5 L589.5 426.9 L590.5 427.3 L591.5 427.7 L592.5 428.1 L593.5 428.4 L594.5 428.8 L595.5 429.1 L596.5 429.4 L597.5 429.8 L598.5 430.1 L599.5 430.4 L600.5 430.7 L601.5 430.9 L602.5 431.2 L603.5 431.4 L604.5 431.7 L605.5 431.9 L606.5 432.1 L607.5 432.3 L608.5 432.5 L609.5 432.7 L610.5 432.9 L611.5 433.1 L612.5 433.3 L613.5 433.5 L614.5 433.7 L615.5 433.8 L616.5 434.0 L617.5 434.1 L618.5 434.3 L619.5 434.4 L620.5 434.6 L621.5 434.7 L622.5 434.9 L623.5 435.0 L624.5 435.1 L625.5 435.2 L626.5 435.4 L627.5 435.5 L628.5 435.6 L629.5 435.7 L630.5 435.8 L631.5 435.9 L632.5 436.0 L633.5 436.1 L634.5 436.2 L635.5 436.2 L636.5 436.3 L637.5 436.4 L638.5 436.5 L639.5 436.6 L640.5 436.6 L641.5 436.7 L642.5 436.8 L643.5 436.8 L644.5 436.9 L645.5 436.9 L646.5 436.9 L647.5 436.9 L648.5 436.9 L649.5 437.0 L650.5 437.0 L651.5 437.0 L652.5 437.0 L653.5 437.0" stroke="#2a9c9c"/>
<path d="M82.5 45.6 L83.5 48.7 L84.5 51.8 L85.5 54.8 L86.5 57.5 L87.5 59.9 L88.5 62.2 L89.5 64.4 L90.5 66.6 L91.5 69.1 L92.5 72.0 L93.5 74.8 L94.5 77.6 L95.5 80.3 L96.5 83.0 L97.5 85.6 L98.5 88.1 L99.5 90.4 L100.5 92.4 L101.5 94.1 L102.5 95.8 L103.5 97.5 L104.5 99.0 L105.5 100.5 L106.5 101.9 L107.5 103.2 L108.5 104.5 L109.5 105.7 L110.5 106.8 L111.5 107.9 L112.5 109.0 L113.5 110.0 L114.5 110.8 L115.5 111.4 L116.5 111.7 L117.5 111.8 L118.5 112.0 L119.5 112.1 L120.5 112.1 L121.5 112.2 L122.5 112.2 L123.5 112.1 L124.5 111.7 L125.5 111.3 L126.5 110.7 L127.5 110.1 L128.5 109.4 L129.5 108.8 L130.5 108.2 L131.5 107.7 L132.5 107.1 L133.5 106.5 L134.5 105.9 L135.5 105.3 L136.5 104.7 L137.5 104.2 L138.5 103.8 L139.5 103.5 L140.5 103.3 L141.5 103.2 L142.5 103.1 L143.5 103.0 L144.5 102.9 L145.5 102.8 L146.5 102.9 L147.5 103.1 L148.5 103.4 L149.5 103.9 L150.5 104.5 L151.5 105.3 L152.5 106.3 L153.5 107.4 L154.5 108.5 L155.5 109.7 L156.5 110.9 L157.5 112.3 L158.5 113.9 L159.5 115.6 L160.5 117.4 L161.5 119.6 L162.5 121.9 L163.5 124.4 L164.5 127.1 L165.5 129.9 L166.5 132.8 L167.5 135.8 L168.5 138.9 L169.5 142.2 L170.5 145.5 L171.5 148.9 L172.5 152.4 L173.5 156.1 L174.5 159.8 L175.5 163.7 L176.5 167.7 L177.5 171.7 L178.5 175.8 L179.5 179.8 L180.5 183.8 L181.5 187.8 L182.5 191.7 L183.5 195.6 L184.5 199.6 L185.5 203.5 L186.5 207.2 L187.5 210.7 L188.5 214.2 L189.5 217.7 L190.5 221.2 L191.5 224.8 L192.5 228.4 L193.5 231.9 L194.5 235.4 L195.5 238.8 L196.5 242.3 L197.5 245.7 L198.5 248.8 L199.5 251.7 L200.5 254.4 L201.5 257.0 L202.5 259.4 L203.5 261.7 L204.5 264.1 L205.5 266.5 L206.5 268.9 L207.5 271.3 L208.5 273.6 L209.5 275.8 L210.5 277.9 L211.5 280.0 L212.5 281.8 L213.5 283.4 L214.5 284.9 L215.5 286.4 L216.5 287.8 L217.5 289.2 L218.5 290.5 L219.5 291.7 L220.5 292.8 L221.5 294.0 L222.5 295.0 L223.5 296.0 L224.5 296.9 L225.5 297.7 L226.5 298.4 L227.5 299.0 L228.5 299.5 L229.5 300.0 L230.5 300.5 L231.5 300.9 L232.5 301.2 L233.5 301.5 L234.5 301.8 L235.5 302.0 L236.5 302.3 L237.5 302.5 L238.5 302.7 L239.5 302.8 L240.5 302.9 L241.5 302.9 L242.5 302.8 L243.5 302.7 L244.5 302.6 L245.5 302.5 L246.5 302.3 L247.5 302.2 L248.5 301.9 L249.5 301.6 L250.5 301.3 L251.5 300.9 L252.5 300.5 L253.5 300.0 L254.5 299.6 L255.5 299.2 L256.5 298.8 L257.5 298.5 L258.5 298.1 L259.5 297.7 L260.5 297.3 L261.5 296.9 L262.5 296.4 L263.5 295.9 L264.5 295.4 L265.5 294.9 L266.5 294.4 L267.5 293.9 L268.5 293.4 L269.5 293.0 L270.5 292.5 L271.5 292.1 L272.5 291.6 L273.5 291.1 L274.5 290.7 L275.5 290.2 L276.5 289.7 L277.5 289.3 L278.5 288.8 L279.5 288.4 L280.5 287.9 L281.5 287.5 L282.5 287.1 L283.5 286.6 L284.5 286.2 L285.5 285.8 L286.5 285.4 L287.5 285.1 L288.5 284.7 L289.5 284.4 L290.5 284.0 L291.5 283.7 L292.5 283.4 L293.5 283.1 L294.5 283.0 L295.5 282.9 L296.5 282.9 L297.5 282.9 L298.5 282.9 L299.5 282.9 L300.5 283.0 L301.5 283.1 L302.5 283.2 L303.5 283.3 L304.5 283.5 L305.5 283.6 L306.5 283.8 L307.5 283.9 L308.5 284.1 L309.5 284.3 L310.5 284.4 L311.5 284.6 L312.5 284.8 L313.5 285.0 L314.5 285.2 L315.5 285.4 L316.5 285.7 L317.5 286.0 L318.5 286.4 L319.5 286.8 L320.5 287.1 L321.5 287.5 L322.5 287.8 L323.5 288.1 L324.5 288.3 L325.5 288.6 L326.5 288.9 L327.5 289.2 L328.5 289.4 L329.5 289.7 L330.5 289.9 L331.5 290.1 L332.5 290.3 L333.5 290.4 L334.5 290.5 L335.5 290.6 L336.5 290.7 L337.5 290.7 L338.5 290.8 L339.5 290.8 L340.5 290.8 L341.5 290.8 L342.5 290.8 L343.5 290.9 L344.5 291.0 L345.5 291.0 L346.5 291.0 L347.5 291.0 L348.5 291.0 L349.5 291.0 L350.5 291.0 L351.5 290.9 L352.5 290.9 L353.5 290.8 L354.5 290.7 L355.5 290.6 L356.5 290.6 L357.5 290.4 L358.5 290.3 L359.5 290.1 L360.5 289.9 L361.5 289.6 L362.5 289.3 L363.5 289.0 L364.5 288.6 L365.5 288.1 L366.5 287.7 L367.5 287.3 L368.5 286.8 L369.5 286.4 L370.5 286.0 L371.5 285.5 L372.5 285.1 L373.5 284.6 L374.5 284.2 L375.5 283.8 L376.5 283.3 L377.5 282.9 L378.5 282.4 L379.5 282.0 L380.5 281.5 L381.5 281.1 L382.5 280.6 L383.5 280.2 L384.5 279.8 L385.5 279.3 L386.5 278.9 L387.5 278.5 L388.5 278.1 L389.5 277.7 L390.5 277.2 L391.5 276.8 L392.5 276.4 L393.5 275.9 L394.5 275.5 L395.5 275.1 L396.5 274.6 L397.5 274.2 L398.5 273.8 L399.5 273.3 L400.5 272.9 L401.5 272.5 L402.5 272.1 L403.5 271.7 L404.5 271.3 L405.5 271.0 L406.5 270.6 L407.5 270.2 L408.5 269.8 L409.5 269.4 L410.5 268.9 L411.5 268.5 L412.5 268.1 L413.5 267.6 L414.5 267.1 L415.5 266.7 L416.5 266.2 L417.5 265.7 L418.5 265.3 L419.5 264.8 L420.5 264.3 L421.5 263.8 L422.5 263.4 L423.5 262.9 L424.5 262.4 L425.5 261.9 L426.5 261.5 L427.5 261.0 L428.5 260.5 L429.5 260.1 L430.5 259.6 L431.5 259.2 L432.5 258.8 L433.5 258.3 L434.5 257.9 L435.5 257.5 L436.5 257.1 L437.5 256.7 L438.5 256.3 L439.5 255.9 L440.5 255.5 L441.5 255.1 L442.5 254.7 L443.5 254.3 L444.5 254.0 L445.5 253.7 L446.5 253.5 L447.5 253.4 L448.5 253.3 L449.5 253.2 L450.5 253.2 L451.5 253.1 L452.5 253.1 L453.5 253.1 L454.5 253.0 L455.5 253.0 L456.5 253.1 L457.5 253.1 L458.5 253.1 L459.5 253.2 L460.5 253.2 L461.5 253.3 L462.5 253.4 L463.5 253.4 L464.5 253.5 L465.5 253.7 L466.5 254.0 L467.5 254.3 L468.5 254.7 L469.5 255.1 L470.5 255.6 L471.5 256.0 L472.5 256.5 L473.5 256.9 L474.5 257.4 L475.5 257.9 L476.5 258.5 L477.5 259.1 L478.5 259.7 L479.5 260.4 L480.5 261.1 L481.5 261.8 L482.5 262.5 L483.5 263.4 L484.5 264.3 L485.5 265.2 L486.5 266.3 L487.5 267.4 L488.5 268.5 L489.5 269.7 L490.5 270.9 L491.5 272.2 L492.5 273.7 L493.5 275.2 L494.5 276.8 L495.5 278.4 L496.5 280.1 L497.5 282.0 L498.5 283.9 L499.5 285.9 L500.5 288.3 L501.5 290.8 L502.5 293.2 L503.5 295.7 L504.5 298.3 L505.5 301.1 L506.5 304.2 L507.5 307.4 L508.5 310.7 L509.5 313.9 L510.5 317.3 L511.5 320.7 L512.5 324.1 L513.5 327.4 L514.5 330.6 L515.5 333.8 L516.5 337.1 L517.5 340.5 L518.5 344.4 L519.5 349.2 L520.5 353.3 L521.5 356.5 L522.5 359.4 L523.5 362.2 L524.5 364.9 L525.5 367.6 L526.5 370.2 L527.5 372.7 L528.5 375.1 L529.5 377.6 L530.5 380.0 L531.5 382.2 L532.5 384.1 L533.5 385.8 L534.5 387.3 L535.5 388.6 L536.5 389.9 L537.5 391.2 L538.5 392.4 L539.5 393.7 L540.5 394.8 L541.5 396.0 L542.5 397.1 L543.5 398.2 L544.5 399.3 L545.5 400.4 L546.5 401.5 L547.5 402.6 L548.5 403.7 L549.5 404.8 L550.5 405.8 L551.5 406.8 L552.5 407.7 L553.5 408.5 L554.5 409.3 L555.5 410.1 L556.5 410.9 L557.5 411.6 L558.5 412.4 L559.5 413.1 L560.5 413.7 L561.5 414.4 L562.5 415.0 L563.5 415.6 L564.5 416.2 L565.5 416.7 L566.5 417.3 L567.5 417.8 L568.5 418.3 L569.5 418.7 L570.5 419.2 L571.5 419.7 L572.5 420.1 L573.5 420.5 L574.5 421.0 L575.5 421.4 L576.5 421.8 L577.5 422.2 L578.5 422.6 L579.5 423.0 L580.5 423.3 L581.5 423.7 L582.5 424.1 L583.5 424.5 L584.5 424.9 L585.5 425.3 L586.5 425.8 L587.5 426.2 L588.5 426.6 L589.5 427.0 L590.5 427.4 L591.5 427.8 L592.5 428.2 L593.5 428.5 L594.5 428.9 L595.5 429.2 L596.5 429.5 L597.5 429.9 L598.5 430.2 L599.5 430.5 L600.5 430.8 L601.5 431.0 L602.5 431.3 L603.5 431.5 L604.5 431.8 L605.5 432.0 L606.5 432.2 L607.5 432.4 L608.5 432.6 L609.5 432.8 L610.5 433.0 L611.5 433.2 L612.5 433.4 L613.5 433.6 L614.5 433.8 L615.5 433.9 L616.5 434.1 L617.5 434.2 L618.5 434.4 L619.5 434.5 L620.5 434.7 L621.5 434.8 L622.5 435.0 L623.5 435.1 L624.5 435.2 L625.5 435.3 L626.5 435.5 L627.5 435.6 L628.5 435.7 L629.5 435.8 L630.5 435.9 L631.5 436.0 L632.5 436.1 L633.5 436.2 L634.5 436.3 L635.5 436.3 L636.5 436.4 L637.5 436.5 L638.5 436.6 L639.5 436.7 L640.5 436.7 L641.5 436.8 L642.5 436.9 L643.5 436.9 L644.5 437.0 L645.5 437.0 L646.5 437.0 L647.5 437.0 L648.5 437.0 L649.5 437.1 L650.5 437.1 L651.5 437.1 L652.5 437.1 L653.5 437.1" stroke="#2a8a4c"/>
<path d="M82.5 43.0 L83.5 46.1 L84.5 49.1 L85.5 52.1 L86.5 54.7 L87.5 56.9 L88.5 59.0 L89.5 61.0 L90.5 63.0 L91.5 65.5 L92.5 68.4 L93.5 71.2 L94.5 74.0 L95.5 76.8 L96.5 79.6 L97.5 82.2 L98.5 84.8 L99.5 87.1 L100.5 89.1 L101.5 90.9 L102.5 92.5 L103.5 94.1 L104.5 95.7 L105.5 97.1 L106.5 98.5 L107.5 99.8 L108.5 101.1 L109.5 102.2 L110.5 103.3 L111.5 104.5 L112.5 105.6 L113.5 106.6 L114.5 107.5 L115.5 108.1 L116.5 108.4 L117.5 108.5 L118.5 108.6 L119.5 108.8 L120.5 108.8 L121.5 108.9 L122.5 108.9 L123.5 108.7 L124.5 108.4 L125.5 107.8 L126.5 107.2 L127.5 106.6 L128.5 105.9 L129.5 105.2 L130.5 104.7 L131.5 104.1 L132.5 103.5 L133.5 102.9 L134.5 102.3 L135.5 101.7 L136.5 101.1 L137.5 100.6 L138.5 100.2 L139.5 99.9 L140.5 99.8 L141.5 99.7 L142.5 99.6 L143.5 99.6 L144.5 99.5 L145.5 99.5 L146.5 99.5 L147.5 99.8 L148.5 100.2 L149.5 100.7 L150.5 101.3 L151.5 102.1 L152.5 103.1 L153.5 104.2 L154.5 105.4 L155.5 106.6 L156.5 108.0 L157.5 109.5 L158.5 111.1 L159.5 112.9 L160.5 114.9 L161.5 117.2 L162.5 119.7 L163.5 122.4 L164.5 125.2 L165.5 128.1 L166.5 131.1 L167.5 134.2 L168.5 137.4 L169.5 140.8 L170.5 144.3 L171.5 147.9 L172.5 151.5 L173.5 155.3 L174.5 159.3 L175.5 163.4 L176.5 167.5 L177.5 171.7 L178.5 175.7 L179.5 179.7 L180.5 183.8 L181.5 187.8 L182.5 191.9 L183.5 195.9 L184.5 200.0 L185.5 204.1 L186.5 208.0 L187.5 211.7 L188.5 215.4 L189.5 219.1 L190.5 222.8 L191.5 226.5 L192.5 230.2 L193.5 233.8 L194.5 237.2 L195.5 240.7 L196.5 244.3 L197.5 247.9 L198.5 251.3 L199.5 254.4 L200.5 257.3 L201.5 260.1 L202.5 262.7 L203.5 265.2 L204.5 267.7 L205.5 270.3 L206.5 272.9 L207.5 275.5 L208.5 278.0 L209.5 280.4 L210.5 282.7 L211.5 285.0 L212.5 287.0 L213.5 288.7 L214.5 290.3 L215.5 291.9 L216.5 293.4 L217.5 294.9 L218.5 296.2 L219.5 297.5 L220.5 298.7 L221.5 299.9 L222.5 301.0 L223.5 302.1 L224.5 303.1 L225.5 304.0 L226.5 304.7 L227.5 305.4 L228.5 306.1 L229.5 306.6 L230.5 307.2 L231.5 307.7 L232.5 308.1 L233.5 308.5 L234.5 308.8 L235.5 309.2 L236.5 309.5 L237.5 309.8 L238.5 310.1 L239.5 310.3 L240.5 310.4 L241.5 310.4 L242.5 310.4 L243.5 310.3 L244.5 310.2 L245.5 310.1 L246.5 310.0 L247.5 309.9 L248.5 309.7 L249.5 309.4 L250.5 309.1 L251.5 308.7 L252.5 308.3 L253.5 307.8 L254.5 307.4 L255.5 307.0 L256.5 306.6 L257.5 306.2 L258.5 305.9 L259.5 305.4 L260.5 305.0 L261.5 304.6 L262.5 304.1 L263.5 303.6 L264.5 303.1 L265.5 302.5 L266.5 302.0 L267.5 301.5 L268.5 301.0 L269.5 300.5 L270.5 300.0 L271.5 299.5 L272.5 299.0 L273.5 298.5 L274.5 298.0 L275.5 297.5 L276.5 297.0 L277.5 296.5 L278.5 296.0 L279.5 295.5 L280.5 295.0 L281.5 294.5 L282.5 293.9 L283.5 293.4 L284.5 292.9 L285.5 292.4 L286.5 291.9 L287.5 291.5 L288.5 291.0 L289.5 290.6 L290.5 290.1 L291.5 289.7 L292.5 289.3 L293.5 288.9 L294.5 288.7 L295.5 288.7 L296.5 288.6 L297.5 288.5 L298.5 288.5 L299.5 288.4 L300.5 288.4 L301.5 288.4 L302.5 288.3 L303.5 288.3 L304.5 288.3 L305.5 288.3 L306.5 288.3 L307.5 288.3 L308.5 288.3 L309.5 288.4 L310.5 288.4 L311.5 288.5 L312.5 288.5 L313.5 288.6 L314.5 288.6 L315.5 288.7 L316.5 288.8 L317.5 289.1 L318.5 289.3 L319.5 289.6 L320.5 289.9 L321.5 290.2 L322.5 290.4 L323.5 290.6 L324.5 290.7 L325.5 290.9 L326.5 291.1 L327.5 291.2 L328.5 291.3 L329.5 291.4 L330.5 291.5 L331.5 291.6 L332.5 291.6 L333.5 291.6 L334.5 291.6 L335.5 291.6 L336.5 291.5 L337.5 291.4 L338.5 291.3 L339.5 291.3 L340.5 291.2 L341.5 291.1 L342.5 291.0 L343.5 291.0 L344.5 291.0 L345.5 290.9 L346.5 290.9 L347.5 290.8 L348.5 290.7 L349.5 290.6 L350.5 290.5 L351.5 290.4 L352.5 290.3 L353.5 290.1 L354.5 289.9 L355.5 289.7 L356.5 289.5 L357.5 289.3 L358.5 289.0 L359.5 288.7 L360.5 288.4 L361.5 288.1 L362.5 287.7 L363.5 287.3 L364.5 286.8 L365.5 286.4 L366.5 285.9 L367.5 285.5 L368.5 285.0 L369.5 284.5 L370.5 284.0 L371.5 283.6 L372.5 283.1 L373.5 282.6 L374.5 282.0 L375.5 281.6 L376.5 281.0 L377.5 280.5 L378.5 280.0 L379.5 279.4 L380.5 278.9 L381.5 278.4 L382.5 277.9 L383.5 277.5 L384.5 277.0 L385.5 276.5 L386.5 276.0 L387.5 275.6 L388.5 275.1 L389.5 274.7 L390.5 274.2 L391.5 273.8 L392.5 273.3 L393.5 272.9 L394.5 272.4 L395.5 272.0 L396.5 271.6 L397.5 271.1 L398.5 270.7 L399.5 270.3 L400.5 269.8 L401.5 269.4 L402.5 269.0 L403.5 268.6 L404.5 268.2 L405.5 267.8 L406.5 267.4 L407.5 266.9 L408.5 266.5 L409.5 266.0 L410.5 265.6 L411.5 265.1 L412.5 264.6 L413.5 264.2 L414.5 263.7 L415.5 263.2 L416.5 262.7 L417.5 262.2 L418.5 261.7 L419.5 261.3 L420.5 260.8 L421.5 260.3 L422.5 259.8 L423.5 259.3 L424.5 258.8 L425.5 258.3 L426.5 257.8 L427.5 257.3 L428.5 256.8 L429.5 256.4 L430.5 255.9 L431.5 255.5 L432.5 255.0 L433.5 254.6 L434.5 254.1 L435.5 253.7 L436.5 253.3 L437.5 252.8 L438.5 252.4 L439.5 252.0 L440.5 251.5 L441.5 251.1 L442.5 250.7 L443.5 250.3 L444.5 249.9 L445.5 249.6 L446.5 249.4 L447.5 249.4 L448.5 249.3 L449.5 249.2 L450.5 249.2 L451.5 249.1 L452.5 249.1 L453.5 249.1 L454.5 249.1 L455.5 249.1 L456.5 249.1 L457.5 249.1 L458.5 249.2 L459.5 249.2 L460.5 249.3 L461.5 249.3 L462.5 249.4 L463.5 249.5 L464.5 249.6 L465.5 249.8 L466.5 250.0 L467.5 250.3 L468.5 250.7 L469.5 251.2 L470.5 251.7 L471.5 252.2 L472.5 252.6 L473.5 253.1 L474.5 253.6 L475.5 254.2 L476.5 254.8 L477.5 255.4 L478.5 256.1 L479.5 256.8 L480.5 257.5 L481.5 258.3 L482.5 259.1 L483.5 259.9 L484.5 260.9 L485.5 262.0 L486.5 263.1 L487.5 264.2 L488.5 265.3 L489.5 266.5 L490.5 267.6 L491.5 269.0 L492.5 270.5 L493.5 272.0 L494.5 273.6 L495.5 275.3 L496.5 277.0 L497.5 278.8 L498.5 280.7 L499.5 282.7 L500.5 284.8 L501.5 287.1 L502.5 289.6 L503.5 292.2 L504.5 294.9 L505.5 297.9 L506.5 301.1 L507.5 304.5 L508.5 307.8 L509.5 311.2 L510.5 314.6 L511.5 318.1 L512.5 321.6 L513.5 325.0 L514.5 328.3 L515.5 331.6 L516.5 335.0 L517.5 338.4 L518.5 342.3 L519.5 347.7 L520.5 352.1 L521.5 355.5 L522.5 358.5 L523.5 361.4 L524.5 364.1 L525.5 366.8 L526.5 369.4 L527.5 371.9 L528.5 374.4 L529.5 376.8 L530.5 379.3 L531.5 381.6 L532.5 383.6 L533.5 385.3 L534.5 386.9 L535.5 388.3 L536.5 389.6 L537.5 390.9 L538.5 392.1 L539.5 393.4 L540.5 394.6 L541.5 395.7 L542.5 396.9 L543.5 398.0 L544.5 399.1 L545.5 400.2 L546.5 401.3 L547.5 402.5 L548.5 403.6 L549.5 404.6 L550.5 405.6 L551.5 406.6 L552.5 407.5 L553.5 408.4 L554.5 409.2 L555.5 410.0 L556.5 410.8 L557.5 411.6 L558.5 412.3 L559.5 413.0 L560.5 413.7 L561.5 414.4 L562.5 415.0 L563.5 415.6 L564.5 416.2 L565.5 416.8 L566.5 417.3 L567.5 417.8 L568.5 418.3 L569.5 418.8 L570.5 419.3 L571.5 419.8 L572.5 420.2 L573.5 420.7 L574.5 421.1 L575.5 421.6 L576.5 422.0 L577.5 422.4 L578.5 422.8 L579.5 423.2 L580.5 423.6 L581.5 423.9 L582.5 424.3 L583.5 424.7 L584.5 425.1 L585.5 425.5 L586.5 426.0 L587.5 426.4 L588.5 426.9 L589.5 427.2 L590.5 427.6 L591.5 428.0 L592.5 428.4 L593.5 428.7 L594.5 429.1 L595.5 429.4 L596.5 429.8 L597.5 430.1 L598.5 430.4 L599.5 430.7 L600.5 431.0 L601.5 431.2 L602.5 431.5 L603.5 431.7 L604.5 432.0 L605.5 432.2 L606.5 432.4 L607.5 432.6 L608.5 432.9 L609.5 433.1 L610.5 433.3 L611.5 433.4 L612.5 433.6 L613.5 433.8 L614.5 434.0 L615.5 434.1 L616.5 434.3 L617.5 434.4 L618.5 434.6 L619.5 434.7 L620.5 434.9 L621.5 435.0 L622.5 435.2 L623.5 435.3 L624.5 435.4 L625.5 435.6 L626.5 435.7 L627.5 435.8 L628.5 435.9 L629.5 436.0 L630.5 436.1 L631.5 436.2 L632.5 436.3 L633.5 436.4 L634.5 436.5 L635.5 436.6 L636.5 436.6 L637.5 436.7 L638.5 436.8 L639.5 436.9 L640.5 437.0 L641.5 437.0 L642.5 437.1 L643.5 437.1 L644.5 437.2 L645.5 437.2 L646.5 437.2 L647.5 437.2 L648.5 437.3 L649.5 437.3 L650.5 437.3 L651.5 437.3 L652.5 437.3 L653.5 437.3" stroke="#e6402c"/>
</g>
<g stroke="#1c1c1e" fill="none">
<path d="M82.5 25.5 V471.6" stroke-width="1.3"/>
<path d="M81.9 470.9 H653.2" stroke-width="1.4"/>
<path d="M74.5 108.6 H82 M74.5 224.2 H82 M74.5 340 H82 M74.5 455.7 H82" stroke-width="1"/>
<path d="M183.4 471 V479.8 M353.7 471 V479.8 M525.2 471 V479.8" stroke-width="1"/>
</g>
<g font-family="'Liberation Sans',sans-serif" fill="#1c1c1e" stroke="#1c1c1e" stroke-width="0.8" stroke-linejoin="round">
<g font-size="22.7" text-anchor="middle">
<text x="67.3" y="114.0" transform="rotate(0.1 67.3 114.0)" textLength="8.8" lengthAdjust="spacingAndGlyphs">3</text>
<text x="67.3" y="229.6" transform="rotate(0.1 67.3 229.6)" textLength="8.8" lengthAdjust="spacingAndGlyphs">2</text>
<text x="67.3" y="345.4" transform="rotate(0.1 67.3 345.4)" textLength="8.8" lengthAdjust="spacingAndGlyphs">1</text>
<text x="67.3" y="461.2" transform="rotate(0.1 67.3 461.2)" textLength="8.8" lengthAdjust="spacingAndGlyphs">0</text>
<text x="182.85" y="503.4" transform="rotate(0.1 182.85 503.4)" font-size="23" textLength="28.8" lengthAdjust="spacingAndGlyphs">250</text>
<text x="353.3" y="503.4" transform="rotate(0.1 353.3 503.4)" font-size="23" textLength="28.8" lengthAdjust="spacingAndGlyphs">300</text>
<text x="524.8" y="503.4" transform="rotate(0.1 524.8 503.4)" font-size="23" textLength="28.8" lengthAdjust="spacingAndGlyphs">350</text>
</g>
<text x="366.8" y="529.6" transform="rotate(0.1 366.8 529.6)" font-size="22.1" stroke-width="0.9" text-anchor="middle" textLength="139.6" lengthAdjust="spacingAndGlyphs">Wavelength (nm)</text>
<text transform="translate(58.8 248.1) rotate(-89.9)" font-size="18.1" font-weight="bold" stroke="none" text-anchor="middle" textLength="40.6" lengthAdjust="spacingAndGlyphs">Abs</text>
</g>
<g font-family="'Liberation Sans',sans-serif" fill="#3a3a3c" font-size="20" text-anchor="middle">
<text x="143.95" y="88.4" transform="rotate(0.1 143.95 88.4)" textLength="25.3" lengthAdjust="spacingAndGlyphs">240</text>
<text x="292.45" y="249.3" transform="rotate(0.1 292.45 249.3)" textLength="25.3" lengthAdjust="spacingAndGlyphs">280</text>
<text x="456.45" y="231.4" transform="rotate(0.1 456.45 231.4)" textLength="25.3" lengthAdjust="spacingAndGlyphs">325</text>
</g>
<g stroke="#e7e7e9" stroke-width="1" fill="none">
<path d="M142.8 128 V160"/><path d="M291.9 195.5 V225"/><path d="M458.9 276.5 V309"/>
</g>
<g fill="#1a1a1a">
<path d="M138.6 158.6 L143.1 159.6 L147.4 158.6 L143.1 167.4 Z"/>
<path d="M287.6 196 L292.1 195 L296.6 196 L292.1 186.9 Z"/>
<path d="M454.9 308.2 L459.3 309.2 L463.7 308.2 L459.3 317.1 Z"/>
</g>
</svg>
</body></html>
